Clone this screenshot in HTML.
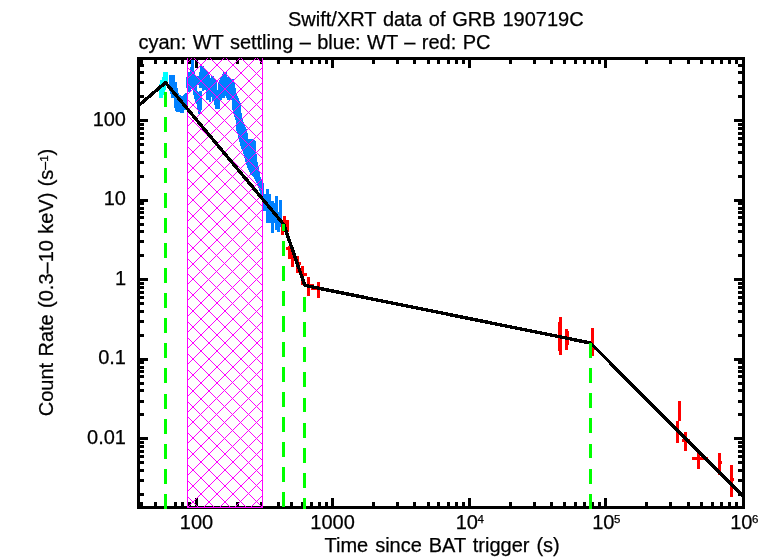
<!DOCTYPE html>
<html><head><meta charset="utf-8"><title>Swift/XRT data of GRB 190719C</title>
<style>html,body{margin:0;padding:0;background:#fff;overflow:hidden}svg{display:block;will-change:transform}text{font-family:"Liberation Sans",sans-serif;fill:#000;stroke:#000;stroke-width:0.25px}</style>
</head><body>
<svg width="772" height="558" viewBox="0 0 772 558">
<rect width="772" height="558" fill="#fff"/>
<g shape-rendering="crispEdges">
<rect x="137" y="57" width="608" height="3" fill="#000"/>
<rect x="137" y="506" width="608" height="3" fill="#000"/>
<rect x="137" y="57" width="3" height="452" fill="#000"/>
<rect x="742" y="57" width="3" height="452" fill="#000"/>
<rect x="140" y="60" width="3" height="4" fill="#000"/>
<rect x="140" y="502" width="3" height="4" fill="#000"/>
<rect x="154" y="60" width="3" height="4" fill="#000"/>
<rect x="154" y="502" width="3" height="4" fill="#000"/>
<rect x="164" y="60" width="3" height="4" fill="#000"/>
<rect x="164" y="502" width="3" height="4" fill="#000"/>
<rect x="174" y="60" width="3" height="4" fill="#000"/>
<rect x="174" y="502" width="3" height="4" fill="#000"/>
<rect x="181" y="60" width="3" height="4" fill="#000"/>
<rect x="181" y="502" width="3" height="4" fill="#000"/>
<rect x="188" y="60" width="3" height="4" fill="#000"/>
<rect x="188" y="502" width="3" height="4" fill="#000"/>
<rect x="195" y="60" width="3" height="8" fill="#000"/>
<rect x="195" y="498" width="3" height="8" fill="#000"/>
<rect x="236" y="60" width="3" height="4" fill="#000"/>
<rect x="236" y="502" width="3" height="4" fill="#000"/>
<rect x="260" y="60" width="3" height="4" fill="#000"/>
<rect x="260" y="502" width="3" height="4" fill="#000"/>
<rect x="277" y="60" width="3" height="4" fill="#000"/>
<rect x="277" y="502" width="3" height="4" fill="#000"/>
<rect x="290" y="60" width="3" height="4" fill="#000"/>
<rect x="290" y="502" width="3" height="4" fill="#000"/>
<rect x="301" y="60" width="3" height="4" fill="#000"/>
<rect x="301" y="502" width="3" height="4" fill="#000"/>
<rect x="310" y="60" width="3" height="4" fill="#000"/>
<rect x="310" y="502" width="3" height="4" fill="#000"/>
<rect x="318" y="60" width="3" height="4" fill="#000"/>
<rect x="318" y="502" width="3" height="4" fill="#000"/>
<rect x="325" y="60" width="3" height="4" fill="#000"/>
<rect x="325" y="502" width="3" height="4" fill="#000"/>
<rect x="331" y="60" width="3" height="8" fill="#000"/>
<rect x="331" y="498" width="3" height="8" fill="#000"/>
<rect x="372" y="60" width="3" height="4" fill="#000"/>
<rect x="372" y="502" width="3" height="4" fill="#000"/>
<rect x="396" y="60" width="3" height="4" fill="#000"/>
<rect x="396" y="502" width="3" height="4" fill="#000"/>
<rect x="413" y="60" width="3" height="4" fill="#000"/>
<rect x="413" y="502" width="3" height="4" fill="#000"/>
<rect x="427" y="60" width="3" height="4" fill="#000"/>
<rect x="427" y="502" width="3" height="4" fill="#000"/>
<rect x="437" y="60" width="3" height="4" fill="#000"/>
<rect x="437" y="502" width="3" height="4" fill="#000"/>
<rect x="447" y="60" width="3" height="4" fill="#000"/>
<rect x="447" y="502" width="3" height="4" fill="#000"/>
<rect x="455" y="60" width="3" height="4" fill="#000"/>
<rect x="455" y="502" width="3" height="4" fill="#000"/>
<rect x="462" y="60" width="3" height="4" fill="#000"/>
<rect x="462" y="502" width="3" height="4" fill="#000"/>
<rect x="468" y="60" width="3" height="8" fill="#000"/>
<rect x="468" y="498" width="3" height="8" fill="#000"/>
<rect x="509" y="60" width="3" height="4" fill="#000"/>
<rect x="509" y="502" width="3" height="4" fill="#000"/>
<rect x="533" y="60" width="3" height="4" fill="#000"/>
<rect x="533" y="502" width="3" height="4" fill="#000"/>
<rect x="550" y="60" width="3" height="4" fill="#000"/>
<rect x="550" y="502" width="3" height="4" fill="#000"/>
<rect x="563" y="60" width="3" height="4" fill="#000"/>
<rect x="563" y="502" width="3" height="4" fill="#000"/>
<rect x="574" y="60" width="3" height="4" fill="#000"/>
<rect x="574" y="502" width="3" height="4" fill="#000"/>
<rect x="583" y="60" width="3" height="4" fill="#000"/>
<rect x="583" y="502" width="3" height="4" fill="#000"/>
<rect x="591" y="60" width="3" height="4" fill="#000"/>
<rect x="591" y="502" width="3" height="4" fill="#000"/>
<rect x="598" y="60" width="3" height="4" fill="#000"/>
<rect x="598" y="502" width="3" height="4" fill="#000"/>
<rect x="604" y="60" width="3" height="8" fill="#000"/>
<rect x="604" y="498" width="3" height="8" fill="#000"/>
<rect x="645" y="60" width="3" height="4" fill="#000"/>
<rect x="645" y="502" width="3" height="4" fill="#000"/>
<rect x="669" y="60" width="3" height="4" fill="#000"/>
<rect x="669" y="502" width="3" height="4" fill="#000"/>
<rect x="687" y="60" width="3" height="4" fill="#000"/>
<rect x="687" y="502" width="3" height="4" fill="#000"/>
<rect x="700" y="60" width="3" height="4" fill="#000"/>
<rect x="700" y="502" width="3" height="4" fill="#000"/>
<rect x="711" y="60" width="3" height="4" fill="#000"/>
<rect x="711" y="502" width="3" height="4" fill="#000"/>
<rect x="720" y="60" width="3" height="4" fill="#000"/>
<rect x="720" y="502" width="3" height="4" fill="#000"/>
<rect x="728" y="60" width="3" height="4" fill="#000"/>
<rect x="728" y="502" width="3" height="4" fill="#000"/>
<rect x="735" y="60" width="3" height="4" fill="#000"/>
<rect x="735" y="502" width="3" height="4" fill="#000"/>
<rect x="140" y="493" width="4" height="3" fill="#000"/>
<rect x="738" y="493" width="4" height="3" fill="#000"/>
<rect x="140" y="479" width="4" height="3" fill="#000"/>
<rect x="738" y="479" width="4" height="3" fill="#000"/>
<rect x="140" y="469" width="4" height="3" fill="#000"/>
<rect x="738" y="469" width="4" height="3" fill="#000"/>
<rect x="140" y="461" width="4" height="3" fill="#000"/>
<rect x="738" y="461" width="4" height="3" fill="#000"/>
<rect x="140" y="455" width="4" height="3" fill="#000"/>
<rect x="738" y="455" width="4" height="3" fill="#000"/>
<rect x="140" y="450" width="4" height="3" fill="#000"/>
<rect x="738" y="450" width="4" height="3" fill="#000"/>
<rect x="140" y="445" width="4" height="3" fill="#000"/>
<rect x="738" y="445" width="4" height="3" fill="#000"/>
<rect x="140" y="441" width="4" height="3" fill="#000"/>
<rect x="738" y="441" width="4" height="3" fill="#000"/>
<rect x="140" y="437" width="8" height="3" fill="#000"/>
<rect x="734" y="437" width="8" height="3" fill="#000"/>
<rect x="140" y="413" width="4" height="3" fill="#000"/>
<rect x="738" y="413" width="4" height="3" fill="#000"/>
<rect x="140" y="400" width="4" height="3" fill="#000"/>
<rect x="738" y="400" width="4" height="3" fill="#000"/>
<rect x="140" y="389" width="4" height="3" fill="#000"/>
<rect x="738" y="389" width="4" height="3" fill="#000"/>
<rect x="140" y="382" width="4" height="3" fill="#000"/>
<rect x="738" y="382" width="4" height="3" fill="#000"/>
<rect x="140" y="375" width="4" height="3" fill="#000"/>
<rect x="738" y="375" width="4" height="3" fill="#000"/>
<rect x="140" y="370" width="4" height="3" fill="#000"/>
<rect x="738" y="370" width="4" height="3" fill="#000"/>
<rect x="140" y="366" width="4" height="3" fill="#000"/>
<rect x="738" y="366" width="4" height="3" fill="#000"/>
<rect x="140" y="361" width="4" height="3" fill="#000"/>
<rect x="738" y="361" width="4" height="3" fill="#000"/>
<rect x="140" y="358" width="8" height="3" fill="#000"/>
<rect x="734" y="358" width="8" height="3" fill="#000"/>
<rect x="140" y="334" width="4" height="3" fill="#000"/>
<rect x="738" y="334" width="4" height="3" fill="#000"/>
<rect x="140" y="320" width="4" height="3" fill="#000"/>
<rect x="738" y="320" width="4" height="3" fill="#000"/>
<rect x="140" y="310" width="4" height="3" fill="#000"/>
<rect x="738" y="310" width="4" height="3" fill="#000"/>
<rect x="140" y="302" width="4" height="3" fill="#000"/>
<rect x="738" y="302" width="4" height="3" fill="#000"/>
<rect x="140" y="296" width="4" height="3" fill="#000"/>
<rect x="738" y="296" width="4" height="3" fill="#000"/>
<rect x="140" y="291" width="4" height="3" fill="#000"/>
<rect x="738" y="291" width="4" height="3" fill="#000"/>
<rect x="140" y="286" width="4" height="3" fill="#000"/>
<rect x="738" y="286" width="4" height="3" fill="#000"/>
<rect x="140" y="282" width="4" height="3" fill="#000"/>
<rect x="738" y="282" width="4" height="3" fill="#000"/>
<rect x="140" y="278" width="8" height="3" fill="#000"/>
<rect x="734" y="278" width="8" height="3" fill="#000"/>
<rect x="140" y="254" width="4" height="3" fill="#000"/>
<rect x="738" y="254" width="4" height="3" fill="#000"/>
<rect x="140" y="240" width="4" height="3" fill="#000"/>
<rect x="738" y="240" width="4" height="3" fill="#000"/>
<rect x="140" y="230" width="4" height="3" fill="#000"/>
<rect x="738" y="230" width="4" height="3" fill="#000"/>
<rect x="140" y="223" width="4" height="3" fill="#000"/>
<rect x="738" y="223" width="4" height="3" fill="#000"/>
<rect x="140" y="216" width="4" height="3" fill="#000"/>
<rect x="738" y="216" width="4" height="3" fill="#000"/>
<rect x="140" y="211" width="4" height="3" fill="#000"/>
<rect x="738" y="211" width="4" height="3" fill="#000"/>
<rect x="140" y="207" width="4" height="3" fill="#000"/>
<rect x="738" y="207" width="4" height="3" fill="#000"/>
<rect x="140" y="202" width="4" height="3" fill="#000"/>
<rect x="738" y="202" width="4" height="3" fill="#000"/>
<rect x="140" y="199" width="8" height="3" fill="#000"/>
<rect x="734" y="199" width="8" height="3" fill="#000"/>
<rect x="140" y="175" width="4" height="3" fill="#000"/>
<rect x="738" y="175" width="4" height="3" fill="#000"/>
<rect x="140" y="161" width="4" height="3" fill="#000"/>
<rect x="738" y="161" width="4" height="3" fill="#000"/>
<rect x="140" y="151" width="4" height="3" fill="#000"/>
<rect x="738" y="151" width="4" height="3" fill="#000"/>
<rect x="140" y="143" width="4" height="3" fill="#000"/>
<rect x="738" y="143" width="4" height="3" fill="#000"/>
<rect x="140" y="137" width="4" height="3" fill="#000"/>
<rect x="738" y="137" width="4" height="3" fill="#000"/>
<rect x="140" y="132" width="4" height="3" fill="#000"/>
<rect x="738" y="132" width="4" height="3" fill="#000"/>
<rect x="140" y="127" width="4" height="3" fill="#000"/>
<rect x="738" y="127" width="4" height="3" fill="#000"/>
<rect x="140" y="123" width="4" height="3" fill="#000"/>
<rect x="738" y="123" width="4" height="3" fill="#000"/>
<rect x="140" y="119" width="8" height="3" fill="#000"/>
<rect x="734" y="119" width="8" height="3" fill="#000"/>
<rect x="140" y="95" width="4" height="3" fill="#000"/>
<rect x="738" y="95" width="4" height="3" fill="#000"/>
<rect x="140" y="81" width="4" height="3" fill="#000"/>
<rect x="738" y="81" width="4" height="3" fill="#000"/>
<rect x="140" y="71" width="4" height="3" fill="#000"/>
<rect x="738" y="71" width="4" height="3" fill="#000"/>
<rect x="140" y="64" width="4" height="3" fill="#000"/>
<rect x="738" y="64" width="4" height="3" fill="#000"/>
<rect x="140" y="57" width="4" height="3" fill="#000"/>
<rect x="738" y="57" width="4" height="3" fill="#000"/>
<rect x="159" y="84" width="3" height="14" fill="#0ff"/>
<rect x="160" y="80" width="3" height="18" fill="#0ff"/>
<rect x="162" y="77" width="3" height="18" fill="#0ff"/>
<rect x="163" y="72" width="3" height="18" fill="#0ff"/>
<rect x="165" y="72" width="3" height="14" fill="#0ff"/>
<rect x="169" y="75" width="3" height="16" fill="#0080ff"/>
<rect x="170" y="75" width="3" height="19" fill="#0080ff"/>
<rect x="171" y="75" width="3" height="23" fill="#0080ff"/>
<rect x="172" y="75" width="3" height="23" fill="#0080ff"/>
<rect x="174" y="82" width="3" height="26" fill="#0080ff"/>
<rect x="175" y="88" width="3" height="23" fill="#0080ff"/>
<rect x="176" y="93" width="3" height="19" fill="#0080ff"/>
<rect x="178" y="95" width="3" height="17" fill="#0080ff"/>
<rect x="180" y="96" width="3" height="17" fill="#0080ff"/>
<rect x="181" y="97" width="3" height="16" fill="#0080ff"/>
<rect x="183" y="95" width="3" height="15" fill="#0080ff"/>
<rect x="184" y="94" width="3" height="14" fill="#0080ff"/>
<rect x="185" y="93" width="3" height="12" fill="#0080ff"/>
<rect x="186" y="77" width="3" height="11" fill="#0080ff"/>
<rect x="188" y="72" width="3" height="20" fill="#0080ff"/>
<rect x="190" y="67" width="3" height="22" fill="#0080ff"/>
<rect x="191" y="60" width="3" height="29" fill="#0080ff"/>
<rect x="263" y="194" width="3" height="17" fill="#0080ff"/>
<rect x="266" y="189" width="3" height="34" fill="#0080ff"/>
<rect x="268" y="194" width="3" height="29" fill="#0080ff"/>
<rect x="271" y="201" width="3" height="32" fill="#0080ff"/>
<rect x="273" y="203" width="3" height="20" fill="#0080ff"/>
<rect x="275" y="196" width="3" height="34" fill="#0080ff"/>
<rect x="277" y="212" width="3" height="20" fill="#0080ff"/>
<rect x="279" y="200" width="3" height="27" fill="#0080ff"/>
<rect x="193" y="72" width="1" height="23" fill="#0080ff"/>
<rect x="194" y="72" width="1" height="27" fill="#0080ff"/>
<rect x="195" y="76" width="1" height="26" fill="#0080ff"/>
<rect x="196" y="76" width="1" height="28" fill="#0080ff"/>
<rect x="197" y="76" width="1" height="9" fill="#0080ff"/>
<rect x="197" y="91" width="1" height="18" fill="#0080ff"/>
<rect x="198" y="76" width="1" height="9" fill="#0080ff"/>
<rect x="198" y="92" width="1" height="22" fill="#0080ff"/>
<rect x="199" y="72" width="1" height="16" fill="#0080ff"/>
<rect x="199" y="91" width="1" height="23" fill="#0080ff"/>
<rect x="200" y="66" width="1" height="22" fill="#0080ff"/>
<rect x="200" y="91" width="1" height="23" fill="#0080ff"/>
<rect x="201" y="66" width="1" height="22" fill="#0080ff"/>
<rect x="201" y="91" width="1" height="19" fill="#0080ff"/>
<rect x="202" y="66" width="1" height="25" fill="#0080ff"/>
<rect x="203" y="66" width="1" height="25" fill="#0080ff"/>
<rect x="204" y="69" width="1" height="21" fill="#0080ff"/>
<rect x="205" y="70" width="1" height="20" fill="#0080ff"/>
<rect x="206" y="71" width="1" height="29" fill="#0080ff"/>
<rect x="207" y="72" width="1" height="28" fill="#0080ff"/>
<rect x="208" y="73" width="1" height="27" fill="#0080ff"/>
<rect x="209" y="75" width="1" height="27" fill="#0080ff"/>
<rect x="210" y="78" width="1" height="24" fill="#0080ff"/>
<rect x="211" y="76" width="1" height="21" fill="#0080ff"/>
<rect x="212" y="76" width="1" height="25" fill="#0080ff"/>
<rect x="213" y="76" width="1" height="25" fill="#0080ff"/>
<rect x="214" y="78" width="1" height="27" fill="#0080ff"/>
<rect x="215" y="79" width="1" height="30" fill="#0080ff"/>
<rect x="216" y="80" width="1" height="29" fill="#0080ff"/>
<rect x="217" y="90" width="1" height="19" fill="#0080ff"/>
<rect x="218" y="82" width="1" height="27" fill="#0080ff"/>
<rect x="219" y="80" width="1" height="29" fill="#0080ff"/>
<rect x="220" y="78" width="1" height="22" fill="#0080ff"/>
<rect x="221" y="76" width="1" height="24" fill="#0080ff"/>
<rect x="222" y="74" width="1" height="24" fill="#0080ff"/>
<rect x="223" y="72" width="1" height="26" fill="#0080ff"/>
<rect x="224" y="72" width="1" height="26" fill="#0080ff"/>
<rect x="225" y="72" width="1" height="24" fill="#0080ff"/>
<rect x="226" y="72" width="1" height="26" fill="#0080ff"/>
<rect x="227" y="77" width="1" height="23" fill="#0080ff"/>
<rect x="228" y="77" width="1" height="23" fill="#0080ff"/>
<rect x="229" y="77" width="1" height="23" fill="#0080ff"/>
<rect x="230" y="79" width="1" height="21" fill="#0080ff"/>
<rect x="231" y="79" width="1" height="21" fill="#0080ff"/>
<rect x="232" y="79" width="1" height="31" fill="#0080ff"/>
<rect x="233" y="79" width="1" height="33" fill="#0080ff"/>
<rect x="234" y="83" width="1" height="29" fill="#0080ff"/>
<rect x="235" y="88" width="1" height="24" fill="#0080ff"/>
<rect x="236" y="93" width="1" height="19" fill="#0080ff"/>
<rect x="237" y="96" width="1" height="16" fill="#0080ff"/>
<polygon fill="#0080ff" points="230,96 232.7,104 232.7,111.5 236,121 236.5,131 239,139.5 240.3,146 242.7,151 245.4,161.5 248,169 251,175 253.5,177 256.7,183 259.4,190.5 260.5,197 263.7,197 263.7,183 260.5,176.6 258.9,169 257.3,161.5 256.2,151 256,142 253.2,138.5 248.3,138.5 247.3,131 243,121 241.3,111.5 240.8,104 237.6,96"/>
<rect x="281" y="222" width="3" height="13" fill="#f00"/>
<rect x="283" y="216" width="3" height="16" fill="#f00"/>
<rect x="286" y="220" width="3" height="12" fill="#f00"/>
<rect x="288" y="246" width="3" height="13" fill="#f00"/>
<rect x="291" y="251" width="3" height="16" fill="#f00"/>
<rect x="296" y="256" width="3" height="17" fill="#f00"/>
<rect x="301" y="266" width="3" height="19" fill="#f00"/>
<rect x="307" y="277" width="3" height="19" fill="#f00"/>
<rect x="317" y="282" width="3" height="16" fill="#f00"/>
<rect x="559" y="317" width="3" height="38" fill="#f00"/>
<rect x="558" y="322" width="3" height="29" fill="#f00"/>
<rect x="565" y="329" width="3" height="21" fill="#f00"/>
<rect x="566" y="331" width="3" height="14" fill="#f00"/>
<rect x="591" y="328" width="3" height="28" fill="#f00"/>
<rect x="678" y="401" width="3" height="20" fill="#f00"/>
<rect x="676" y="421" width="3" height="22" fill="#f00"/>
<rect x="684" y="432" width="3" height="19" fill="#f00"/>
<rect x="697" y="452" width="3" height="17" fill="#f00"/>
<rect x="718" y="453" width="3" height="22" fill="#f00"/>
<rect x="730" y="465" width="3" height="32" fill="#f00"/>
<rect x="286" y="247" width="5" height="3" fill="#f00"/>
<rect x="296" y="262" width="5" height="3" fill="#f00"/>
<rect x="301" y="273" width="6" height="3" fill="#f00"/>
<rect x="307" y="284" width="7" height="3" fill="#f00"/>
<rect x="311" y="287" width="9" height="3" fill="#f00"/>
<rect x="682" y="439" width="8" height="3" fill="#f00"/>
<rect x="692" y="457" width="16" height="3" fill="#f00"/>
<rect x="718" y="461" width="4" height="3" fill="#f00"/>
<rect x="730" y="478" width="4" height="3" fill="#f00"/>
<rect x="592" y="347" width="4" height="3" fill="#f00"/>
<path d="M257 58.5h1M258 59.5h1M259 60.5h1M260 61.5h1M261 62.5h1M262 63.5h1M241 58.5h1M242 59.5h1M243 60.5h1M244 61.5h1M245 62.5h1M246 63.5h1M247 64.5h1M248 65.5h1M249 66.5h1M250 67.5h1M251 68.5h1M252 69.5h1M253 70.5h1M254 71.5h1M255 72.5h1M256 73.5h1M257 74.5h1M258 75.5h1M259 76.5h1M260 77.5h1M261 78.5h1M262 79.5h1M226 58.5h1M227 59.5h1M228 60.5h1M229 61.5h1M230 62.5h1M231 63.5h1M232 64.5h1M233 65.5h1M234 66.5h1M235 67.5h1M236 68.5h1M237 69.5h1M238 70.5h1M239 71.5h1M240 72.5h1M241 73.5h1M242 74.5h1M243 75.5h1M244 76.5h1M245 77.5h1M246 78.5h1M247 79.5h1M248 80.5h1M249 81.5h1M250 82.5h1M251 83.5h1M252 84.5h1M253 85.5h1M254 86.5h1M255 87.5h1M256 88.5h1M257 89.5h1M258 90.5h1M259 91.5h1M260 92.5h1M261 93.5h1M262 94.5h1M210 58.5h1M211 59.5h1M212 60.5h1M213 61.5h1M214 62.5h1M215 63.5h1M216 64.5h1M217 65.5h1M218 66.5h1M219 67.5h1M220 68.5h1M221 69.5h1M222 70.5h1M223 71.5h1M224 72.5h1M225 73.5h1M226 74.5h1M227 75.5h1M228 76.5h1M229 77.5h1M230 78.5h1M231 79.5h1M232 80.5h1M233 81.5h1M234 82.5h1M235 83.5h1M236 84.5h1M237 85.5h1M238 86.5h1M239 87.5h1M240 88.5h1M241 89.5h1M242 90.5h1M243 91.5h1M244 92.5h1M245 93.5h1M246 94.5h1M247 95.5h1M248 96.5h1M249 97.5h1M250 98.5h1M251 99.5h1M252 100.5h1M253 101.5h1M254 102.5h1M255 103.5h1M256 104.5h1M257 105.5h1M258 106.5h1M259 107.5h1M260 108.5h1M261 109.5h1M262 110.5h1M187 62.5h1M188 61.5h1M189 60.5h1M190 59.5h1M191 58.5h1M194 58.5h1M195 59.5h1M196 60.5h1M197 61.5h1M198 62.5h1M199 63.5h1M200 64.5h1M201 65.5h1M202 66.5h1M203 67.5h1M204 68.5h1M205 69.5h1M206 70.5h1M207 71.5h1M208 72.5h1M209 73.5h1M210 74.5h1M211 75.5h1M212 76.5h1M213 77.5h1M214 78.5h1M215 79.5h1M216 80.5h1M217 81.5h1M218 82.5h1M219 83.5h1M220 84.5h1M221 85.5h1M222 86.5h1M223 87.5h1M224 88.5h1M225 89.5h1M226 90.5h1M227 91.5h1M228 92.5h1M229 93.5h1M230 94.5h1M231 95.5h1M232 96.5h1M233 97.5h1M234 98.5h1M235 99.5h1M236 100.5h1M237 101.5h1M238 102.5h1M239 103.5h1M240 104.5h1M241 105.5h1M242 106.5h1M243 107.5h1M244 108.5h1M245 109.5h1M246 110.5h1M247 111.5h1M248 112.5h1M249 113.5h1M250 114.5h1M251 115.5h1M252 116.5h1M253 117.5h1M254 118.5h1M255 119.5h1M256 120.5h1M257 121.5h1M258 122.5h1M259 123.5h1M260 124.5h1M261 125.5h1M262 126.5h1M187 78.5h1M188 77.5h1M189 76.5h1M190 75.5h1M191 74.5h1M192 73.5h1M193 72.5h1M194 71.5h1M195 70.5h1M196 69.5h1M197 68.5h1M198 67.5h1M199 66.5h1M200 65.5h1M201 64.5h1M202 63.5h1M203 62.5h1M204 61.5h1M205 60.5h1M206 59.5h1M207 58.5h1M187 67.5h1M188 68.5h1M189 69.5h1M190 70.5h1M191 71.5h1M192 72.5h1M193 73.5h1M194 74.5h1M195 75.5h1M196 76.5h1M197 77.5h1M198 78.5h1M199 79.5h1M200 80.5h1M201 81.5h1M202 82.5h1M203 83.5h1M204 84.5h1M205 85.5h1M206 86.5h1M207 87.5h1M208 88.5h1M209 89.5h1M210 90.5h1M211 91.5h1M212 92.5h1M213 93.5h1M214 94.5h1M215 95.5h1M216 96.5h1M217 97.5h1M218 98.5h1M219 99.5h1M220 100.5h1M221 101.5h1M222 102.5h1M223 103.5h1M224 104.5h1M225 105.5h1M226 106.5h1M227 107.5h1M228 108.5h1M229 109.5h1M230 110.5h1M231 111.5h1M232 112.5h1M233 113.5h1M234 114.5h1M235 115.5h1M236 116.5h1M237 117.5h1M238 118.5h1M239 119.5h1M240 120.5h1M241 121.5h1M242 122.5h1M243 123.5h1M244 124.5h1M245 125.5h1M246 126.5h1M247 127.5h1M248 128.5h1M249 129.5h1M250 130.5h1M251 131.5h1M252 132.5h1M253 133.5h1M254 134.5h1M255 135.5h1M256 136.5h1M257 137.5h1M258 138.5h1M259 139.5h1M260 140.5h1M261 141.5h1M262 142.5h1M187 94.5h1M188 93.5h1M189 92.5h1M190 91.5h1M191 90.5h1M192 89.5h1M193 88.5h1M194 87.5h1M195 86.5h1M196 85.5h1M197 84.5h1M198 83.5h1M199 82.5h1M200 81.5h1M201 80.5h1M202 79.5h1M203 78.5h1M204 77.5h1M205 76.5h1M206 75.5h1M207 74.5h1M208 73.5h1M209 72.5h1M210 71.5h1M211 70.5h1M212 69.5h1M213 68.5h1M214 67.5h1M215 66.5h1M216 65.5h1M217 64.5h1M218 63.5h1M219 62.5h1M220 61.5h1M221 60.5h1M222 59.5h1M223 58.5h1M187 83.5h1M188 84.5h1M189 85.5h1M190 86.5h1M191 87.5h1M192 88.5h1M193 89.5h1M194 90.5h1M195 91.5h1M196 92.5h1M197 93.5h1M198 94.5h1M199 95.5h1M200 96.5h1M201 97.5h1M202 98.5h1M203 99.5h1M204 100.5h1M205 101.5h1M206 102.5h1M207 103.5h1M208 104.5h1M209 105.5h1M210 106.5h1M211 107.5h1M212 108.5h1M213 109.5h1M214 110.5h1M215 111.5h1M216 112.5h1M217 113.5h1M218 114.5h1M219 115.5h1M220 116.5h1M221 117.5h1M222 118.5h1M223 119.5h1M224 120.5h1M225 121.5h1M226 122.5h1M227 123.5h1M228 124.5h1M229 125.5h1M230 126.5h1M231 127.5h1M232 128.5h1M233 129.5h1M234 130.5h1M235 131.5h1M236 132.5h1M237 133.5h1M238 134.5h1M239 135.5h1M240 136.5h1M241 137.5h1M242 138.5h1M243 139.5h1M244 140.5h1M245 141.5h1M246 142.5h1M247 143.5h1M248 144.5h1M249 145.5h1M250 146.5h1M251 147.5h1M252 148.5h1M253 149.5h1M254 150.5h1M255 151.5h1M256 152.5h1M257 153.5h1M258 154.5h1M259 155.5h1M260 156.5h1M261 157.5h1M262 158.5h1M187 110.5h1M188 109.5h1M189 108.5h1M190 107.5h1M191 106.5h1M192 105.5h1M193 104.5h1M194 103.5h1M195 102.5h1M196 101.5h1M197 100.5h1M198 99.5h1M199 98.5h1M200 97.5h1M201 96.5h1M202 95.5h1M203 94.5h1M204 93.5h1M205 92.5h1M206 91.5h1M207 90.5h1M208 89.5h1M209 88.5h1M210 87.5h1M211 86.5h1M212 85.5h1M213 84.5h1M214 83.5h1M215 82.5h1M216 81.5h1M217 80.5h1M218 79.5h1M219 78.5h1M220 77.5h1M221 76.5h1M222 75.5h1M223 74.5h1M224 73.5h1M225 72.5h1M226 71.5h1M227 70.5h1M228 69.5h1M229 68.5h1M230 67.5h1M231 66.5h1M232 65.5h1M233 64.5h1M234 63.5h1M235 62.5h1M236 61.5h1M237 60.5h1M238 59.5h1M239 58.5h1M187 99.5h1M188 100.5h1M189 101.5h1M190 102.5h1M191 103.5h1M192 104.5h1M193 105.5h1M194 106.5h1M195 107.5h1M196 108.5h1M197 109.5h1M198 110.5h1M199 111.5h1M200 112.5h1M201 113.5h1M202 114.5h1M203 115.5h1M204 116.5h1M205 117.5h1M206 118.5h1M207 119.5h1M208 120.5h1M209 121.5h1M210 122.5h1M211 123.5h1M212 124.5h1M213 125.5h1M214 126.5h1M215 127.5h1M216 128.5h1M217 129.5h1M218 130.5h1M219 131.5h1M220 132.5h1M221 133.5h1M222 134.5h1M223 135.5h1M224 136.5h1M225 137.5h1M226 138.5h1M227 139.5h1M228 140.5h1M229 141.5h1M230 142.5h1M231 143.5h1M232 144.5h1M233 145.5h1M234 146.5h1M235 147.5h1M236 148.5h1M237 149.5h1M238 150.5h1M239 151.5h1M240 152.5h1M241 153.5h1M242 154.5h1M243 155.5h1M244 156.5h1M245 157.5h1M246 158.5h1M247 159.5h1M248 160.5h1M249 161.5h1M250 162.5h1M251 163.5h1M252 164.5h1M253 165.5h1M254 166.5h1M255 167.5h1M256 168.5h1M257 169.5h1M258 170.5h1M259 171.5h1M260 172.5h1M261 173.5h1M262 174.5h1M187 126.5h1M188 125.5h1M189 124.5h1M190 123.5h1M191 122.5h1M192 121.5h1M193 120.5h1M194 119.5h1M195 118.5h1M196 117.5h1M197 116.5h1M198 115.5h1M199 114.5h1M200 113.5h1M201 112.5h1M202 111.5h1M203 110.5h1M204 109.5h1M205 108.5h1M206 107.5h1M207 106.5h1M208 105.5h1M209 104.5h1M210 103.5h1M211 102.5h1M212 101.5h1M213 100.5h1M214 99.5h1M215 98.5h1M216 97.5h1M217 96.5h1M218 95.5h1M219 94.5h1M220 93.5h1M221 92.5h1M222 91.5h1M223 90.5h1M224 89.5h1M225 88.5h1M226 87.5h1M227 86.5h1M228 85.5h1M229 84.5h1M230 83.5h1M231 82.5h1M232 81.5h1M233 80.5h1M234 79.5h1M235 78.5h1M236 77.5h1M237 76.5h1M238 75.5h1M239 74.5h1M240 73.5h1M241 72.5h1M242 71.5h1M243 70.5h1M244 69.5h1M245 68.5h1M246 67.5h1M247 66.5h1M248 65.5h1M249 64.5h1M250 63.5h1M251 62.5h1M252 61.5h1M253 60.5h1M254 59.5h1M255 58.5h1M187 115.5h1M188 116.5h1M189 117.5h1M190 118.5h1M191 119.5h1M192 120.5h1M193 121.5h1M194 122.5h1M195 123.5h1M196 124.5h1M197 125.5h1M198 126.5h1M199 127.5h1M200 128.5h1M201 129.5h1M202 130.5h1M203 131.5h1M204 132.5h1M205 133.5h1M206 134.5h1M207 135.5h1M208 136.5h1M209 137.5h1M210 138.5h1M211 139.5h1M212 140.5h1M213 141.5h1M214 142.5h1M215 143.5h1M216 144.5h1M217 145.5h1M218 146.5h1M219 147.5h1M220 148.5h1M221 149.5h1M222 150.5h1M223 151.5h1M224 152.5h1M225 153.5h1M226 154.5h1M227 155.5h1M228 156.5h1M229 157.5h1M230 158.5h1M231 159.5h1M232 160.5h1M233 161.5h1M234 162.5h1M235 163.5h1M236 164.5h1M237 165.5h1M238 166.5h1M239 167.5h1M240 168.5h1M241 169.5h1M242 170.5h1M243 171.5h1M244 172.5h1M245 173.5h1M246 174.5h1M247 175.5h1M248 176.5h1M249 177.5h1M250 178.5h1M251 179.5h1M252 180.5h1M253 181.5h1M254 182.5h1M255 183.5h1M256 184.5h1M257 185.5h1M258 186.5h1M259 187.5h1M260 188.5h1M261 189.5h1M262 190.5h1M187 142.5h1M188 141.5h1M189 140.5h1M190 139.5h1M191 138.5h1M192 137.5h1M193 136.5h1M194 135.5h1M195 134.5h1M196 133.5h1M197 132.5h1M198 131.5h1M199 130.5h1M200 129.5h1M201 128.5h1M202 127.5h1M203 126.5h1M204 125.5h1M205 124.5h1M206 123.5h1M207 122.5h1M208 121.5h1M209 120.5h1M210 119.5h1M211 118.5h1M212 117.5h1M213 116.5h1M214 115.5h1M215 114.5h1M216 113.5h1M217 112.5h1M218 111.5h1M219 110.5h1M220 109.5h1M221 108.5h1M222 107.5h1M223 106.5h1M224 105.5h1M225 104.5h1M226 103.5h1M227 102.5h1M228 101.5h1M229 100.5h1M230 99.5h1M231 98.5h1M232 97.5h1M233 96.5h1M234 95.5h1M235 94.5h1M236 93.5h1M237 92.5h1M238 91.5h1M239 90.5h1M240 89.5h1M241 88.5h1M242 87.5h1M243 86.5h1M244 85.5h1M245 84.5h1M246 83.5h1M247 82.5h1M248 81.5h1M249 80.5h1M250 79.5h1M251 78.5h1M252 77.5h1M253 76.5h1M254 75.5h1M255 74.5h1M256 73.5h1M257 72.5h1M258 71.5h1M259 70.5h1M260 69.5h1M261 68.5h1M262 67.5h1M187 131.5h1M188 132.5h1M189 133.5h1M190 134.5h1M191 135.5h1M192 136.5h1M193 137.5h1M194 138.5h1M195 139.5h1M196 140.5h1M197 141.5h1M198 142.5h1M199 143.5h1M200 144.5h1M201 145.5h1M202 146.5h1M203 147.5h1M204 148.5h1M205 149.5h1M206 150.5h1M207 151.5h1M208 152.5h1M209 153.5h1M210 154.5h1M211 155.5h1M212 156.5h1M213 157.5h1M214 158.5h1M215 159.5h1M216 160.5h1M217 161.5h1M218 162.5h1M219 163.5h1M220 164.5h1M221 165.5h1M222 166.5h1M223 167.5h1M224 168.5h1M225 169.5h1M226 170.5h1M227 171.5h1M228 172.5h1M229 173.5h1M230 174.5h1M231 175.5h1M232 176.5h1M233 177.5h1M234 178.5h1M235 179.5h1M236 180.5h1M237 181.5h1M238 182.5h1M239 183.5h1M240 184.5h1M241 185.5h1M242 186.5h1M243 187.5h1M244 188.5h1M245 189.5h1M246 190.5h1M247 191.5h1M248 192.5h1M249 193.5h1M250 194.5h1M251 195.5h1M252 196.5h1M253 197.5h1M254 198.5h1M255 199.5h1M256 200.5h1M257 201.5h1M258 202.5h1M259 203.5h1M260 204.5h1M261 205.5h1M262 206.5h1M187 157.5h1M188 156.5h1M189 155.5h1M190 154.5h1M191 153.5h1M192 152.5h1M193 151.5h1M194 150.5h1M195 149.5h1M196 148.5h1M197 147.5h1M198 146.5h1M199 145.5h1M200 144.5h1M201 143.5h1M202 142.5h1M203 141.5h1M204 140.5h1M205 139.5h1M206 138.5h1M207 137.5h1M208 136.5h1M209 135.5h1M210 134.5h1M211 133.5h1M212 132.5h1M213 131.5h1M214 130.5h1M215 129.5h1M216 128.5h1M217 127.5h1M218 126.5h1M219 125.5h1M220 124.5h1M221 123.5h1M222 122.5h1M223 121.5h1M224 120.5h1M225 119.5h1M226 118.5h1M227 117.5h1M228 116.5h1M229 115.5h1M230 114.5h1M231 113.5h1M232 112.5h1M233 111.5h1M234 110.5h1M235 109.5h1M236 108.5h1M237 107.5h1M238 106.5h1M239 105.5h1M240 104.5h1M241 103.5h1M242 102.5h1M243 101.5h1M244 100.5h1M245 99.5h1M246 98.5h1M247 97.5h1M248 96.5h1M249 95.5h1M250 94.5h1M251 93.5h1M252 92.5h1M253 91.5h1M254 90.5h1M255 89.5h1M256 88.5h1M257 87.5h1M258 86.5h1M259 85.5h1M260 84.5h1M261 83.5h1M262 82.5h1M187 146.5h1M188 147.5h1M189 148.5h1M190 149.5h1M191 150.5h1M192 151.5h1M193 152.5h1M194 153.5h1M195 154.5h1M196 155.5h1M197 156.5h1M198 157.5h1M199 158.5h1M200 159.5h1M201 160.5h1M202 161.5h1M203 162.5h1M204 163.5h1M205 164.5h1M206 165.5h1M207 166.5h1M208 167.5h1M209 168.5h1M210 169.5h1M211 170.5h1M212 171.5h1M213 172.5h1M214 173.5h1M215 174.5h1M216 175.5h1M217 176.5h1M218 177.5h1M219 178.5h1M220 179.5h1M221 180.5h1M222 181.5h1M223 182.5h1M224 183.5h1M225 184.5h1M226 185.5h1M227 186.5h1M228 187.5h1M229 188.5h1M230 189.5h1M231 190.5h1M232 191.5h1M233 192.5h1M234 193.5h1M235 194.5h1M236 195.5h1M237 196.5h1M238 197.5h1M239 198.5h1M240 199.5h1M241 200.5h1M242 201.5h1M243 202.5h1M244 203.5h1M245 204.5h1M246 205.5h1M247 206.5h1M248 207.5h1M249 208.5h1M250 209.5h1M251 210.5h1M252 211.5h1M253 212.5h1M254 213.5h1M255 214.5h1M256 215.5h1M257 216.5h1M258 217.5h1M259 218.5h1M260 219.5h1M261 220.5h1M262 221.5h1M187 173.5h1M188 172.5h1M189 171.5h1M190 170.5h1M191 169.5h1M192 168.5h1M193 167.5h1M194 166.5h1M195 165.5h1M196 164.5h1M197 163.5h1M198 162.5h1M199 161.5h1M200 160.5h1M201 159.5h1M202 158.5h1M203 157.5h1M204 156.5h1M205 155.5h1M206 154.5h1M207 153.5h1M208 152.5h1M209 151.5h1M210 150.5h1M211 149.5h1M212 148.5h1M213 147.5h1M214 146.5h1M215 145.5h1M216 144.5h1M217 143.5h1M218 142.5h1M219 141.5h1M220 140.5h1M221 139.5h1M222 138.5h1M223 137.5h1M224 136.5h1M225 135.5h1M226 134.5h1M227 133.5h1M228 132.5h1M229 131.5h1M230 130.5h1M231 129.5h1M232 128.5h1M233 127.5h1M234 126.5h1M235 125.5h1M236 124.5h1M237 123.5h1M238 122.5h1M239 121.5h1M240 120.5h1M241 119.5h1M242 118.5h1M243 117.5h1M244 116.5h1M245 115.5h1M246 114.5h1M247 113.5h1M248 112.5h1M249 111.5h1M250 110.5h1M251 109.5h1M252 108.5h1M253 107.5h1M254 106.5h1M255 105.5h1M256 104.5h1M257 103.5h1M258 102.5h1M259 101.5h1M260 100.5h1M261 99.5h1M262 98.5h1M187 162.5h1M188 163.5h1M189 164.5h1M190 165.5h1M191 166.5h1M192 167.5h1M193 168.5h1M194 169.5h1M195 170.5h1M196 171.5h1M197 172.5h1M198 173.5h1M199 174.5h1M200 175.5h1M201 176.5h1M202 177.5h1M203 178.5h1M204 179.5h1M205 180.5h1M206 181.5h1M207 182.5h1M208 183.5h1M209 184.5h1M210 185.5h1M211 186.5h1M212 187.5h1M213 188.5h1M214 189.5h1M215 190.5h1M216 191.5h1M217 192.5h1M218 193.5h1M219 194.5h1M220 195.5h1M221 196.5h1M222 197.5h1M223 198.5h1M224 199.5h1M225 200.5h1M226 201.5h1M227 202.5h1M228 203.5h1M229 204.5h1M230 205.5h1M231 206.5h1M232 207.5h1M233 208.5h1M234 209.5h1M235 210.5h1M236 211.5h1M237 212.5h1M238 213.5h1M239 214.5h1M240 215.5h1M241 216.5h1M242 217.5h1M243 218.5h1M244 219.5h1M245 220.5h1M246 221.5h1M247 222.5h1M248 223.5h1M249 224.5h1M250 225.5h1M251 226.5h1M252 227.5h1M253 228.5h1M254 229.5h1M255 230.5h1M256 231.5h1M257 232.5h1M258 233.5h1M259 234.5h1M260 235.5h1M261 236.5h1M262 237.5h1M187 189.5h1M188 188.5h1M189 187.5h1M190 186.5h1M191 185.5h1M192 184.5h1M193 183.5h1M194 182.5h1M195 181.5h1M196 180.5h1M197 179.5h1M198 178.5h1M199 177.5h1M200 176.5h1M201 175.5h1M202 174.5h1M203 173.5h1M204 172.5h1M205 171.5h1M206 170.5h1M207 169.5h1M208 168.5h1M209 167.5h1M210 166.5h1M211 165.5h1M212 164.5h1M213 163.5h1M214 162.5h1M215 161.5h1M216 160.5h1M217 159.5h1M218 158.5h1M219 157.5h1M220 156.5h1M221 155.5h1M222 154.5h1M223 153.5h1M224 152.5h1M225 151.5h1M226 150.5h1M227 149.5h1M228 148.5h1M229 147.5h1M230 146.5h1M231 145.5h1M232 144.5h1M233 143.5h1M234 142.5h1M235 141.5h1M236 140.5h1M237 139.5h1M238 138.5h1M239 137.5h1M240 136.5h1M241 135.5h1M242 134.5h1M243 133.5h1M244 132.5h1M245 131.5h1M246 130.5h1M247 129.5h1M248 128.5h1M249 127.5h1M250 126.5h1M251 125.5h1M252 124.5h1M253 123.5h1M254 122.5h1M255 121.5h1M256 120.5h1M257 119.5h1M258 118.5h1M259 117.5h1M260 116.5h1M261 115.5h1M262 114.5h1M187 178.5h1M188 179.5h1M189 180.5h1M190 181.5h1M191 182.5h1M192 183.5h1M193 184.5h1M194 185.5h1M195 186.5h1M196 187.5h1M197 188.5h1M198 189.5h1M199 190.5h1M200 191.5h1M201 192.5h1M202 193.5h1M203 194.5h1M204 195.5h1M205 196.5h1M206 197.5h1M207 198.5h1M208 199.5h1M209 200.5h1M210 201.5h1M211 202.5h1M212 203.5h1M213 204.5h1M214 205.5h1M215 206.5h1M216 207.5h1M217 208.5h1M218 209.5h1M219 210.5h1M220 211.5h1M221 212.5h1M222 213.5h1M223 214.5h1M224 215.5h1M225 216.5h1M226 217.5h1M227 218.5h1M228 219.5h1M229 220.5h1M230 221.5h1M231 222.5h1M232 223.5h1M233 224.5h1M234 225.5h1M235 226.5h1M236 227.5h1M237 228.5h1M238 229.5h1M239 230.5h1M240 231.5h1M241 232.5h1M242 233.5h1M243 234.5h1M244 235.5h1M245 236.5h1M246 237.5h1M247 238.5h1M248 239.5h1M249 240.5h1M250 241.5h1M251 242.5h1M252 243.5h1M253 244.5h1M254 245.5h1M255 246.5h1M256 247.5h1M257 248.5h1M258 249.5h1M259 250.5h1M260 251.5h1M261 252.5h1M262 253.5h1M187 205.5h1M188 204.5h1M189 203.5h1M190 202.5h1M191 201.5h1M192 200.5h1M193 199.5h1M194 198.5h1M195 197.5h1M196 196.5h1M197 195.5h1M198 194.5h1M199 193.5h1M200 192.5h1M201 191.5h1M202 190.5h1M203 189.5h1M204 188.5h1M205 187.5h1M206 186.5h1M207 185.5h1M208 184.5h1M209 183.5h1M210 182.5h1M211 181.5h1M212 180.5h1M213 179.5h1M214 178.5h1M215 177.5h1M216 176.5h1M217 175.5h1M218 174.5h1M219 173.5h1M220 172.5h1M221 171.5h1M222 170.5h1M223 169.5h1M224 168.5h1M225 167.5h1M226 166.5h1M227 165.5h1M228 164.5h1M229 163.5h1M230 162.5h1M231 161.5h1M232 160.5h1M233 159.5h1M234 158.5h1M235 157.5h1M236 156.5h1M237 155.5h1M238 154.5h1M239 153.5h1M240 152.5h1M241 151.5h1M242 150.5h1M243 149.5h1M244 148.5h1M245 147.5h1M246 146.5h1M247 145.5h1M248 144.5h1M249 143.5h1M250 142.5h1M251 141.5h1M252 140.5h1M253 139.5h1M254 138.5h1M255 137.5h1M256 136.5h1M257 135.5h1M258 134.5h1M259 133.5h1M260 132.5h1M261 131.5h1M262 130.5h1M187 194.5h1M188 195.5h1M189 196.5h1M190 197.5h1M191 198.5h1M192 199.5h1M193 200.5h1M194 201.5h1M195 202.5h1M196 203.5h1M197 204.5h1M198 205.5h1M199 206.5h1M200 207.5h1M201 208.5h1M202 209.5h1M203 210.5h1M204 211.5h1M205 212.5h1M206 213.5h1M207 214.5h1M208 215.5h1M209 216.5h1M210 217.5h1M211 218.5h1M212 219.5h1M213 220.5h1M214 221.5h1M215 222.5h1M216 223.5h1M217 224.5h1M218 225.5h1M219 226.5h1M220 227.5h1M221 228.5h1M222 229.5h1M223 230.5h1M224 231.5h1M225 232.5h1M226 233.5h1M227 234.5h1M228 235.5h1M229 236.5h1M230 237.5h1M231 238.5h1M232 239.5h1M233 240.5h1M234 241.5h1M235 242.5h1M236 243.5h1M237 244.5h1M238 245.5h1M239 246.5h1M240 247.5h1M241 248.5h1M242 249.5h1M243 250.5h1M244 251.5h1M245 252.5h1M246 253.5h1M247 254.5h1M248 255.5h1M249 256.5h1M250 257.5h1M251 258.5h1M252 259.5h1M253 260.5h1M254 261.5h1M255 262.5h1M256 263.5h1M257 264.5h1M258 265.5h1M259 266.5h1M260 267.5h1M261 268.5h1M262 269.5h1M187 221.5h1M188 220.5h1M189 219.5h1M190 218.5h1M191 217.5h1M192 216.5h1M193 215.5h1M194 214.5h1M195 213.5h1M196 212.5h1M197 211.5h1M198 210.5h1M199 209.5h1M200 208.5h1M201 207.5h1M202 206.5h1M203 205.5h1M204 204.5h1M205 203.5h1M206 202.5h1M207 201.5h1M208 200.5h1M209 199.5h1M210 198.5h1M211 197.5h1M212 196.5h1M213 195.5h1M214 194.5h1M215 193.5h1M216 192.5h1M217 191.5h1M218 190.5h1M219 189.5h1M220 188.5h1M221 187.5h1M222 186.5h1M223 185.5h1M224 184.5h1M225 183.5h1M226 182.5h1M227 181.5h1M228 180.5h1M229 179.5h1M230 178.5h1M231 177.5h1M232 176.5h1M233 175.5h1M234 174.5h1M235 173.5h1M236 172.5h1M237 171.5h1M238 170.5h1M239 169.5h1M240 168.5h1M241 167.5h1M242 166.5h1M243 165.5h1M244 164.5h1M245 163.5h1M246 162.5h1M247 161.5h1M248 160.5h1M249 159.5h1M250 158.5h1M251 157.5h1M252 156.5h1M253 155.5h1M254 154.5h1M255 153.5h1M256 152.5h1M257 151.5h1M258 150.5h1M259 149.5h1M260 148.5h1M261 147.5h1M262 146.5h1M187 210.5h1M188 211.5h1M189 212.5h1M190 213.5h1M191 214.5h1M192 215.5h1M193 216.5h1M194 217.5h1M195 218.5h1M196 219.5h1M197 220.5h1M198 221.5h1M199 222.5h1M200 223.5h1M201 224.5h1M202 225.5h1M203 226.5h1M204 227.5h1M205 228.5h1M206 229.5h1M207 230.5h1M208 231.5h1M209 232.5h1M210 233.5h1M211 234.5h1M212 235.5h1M213 236.5h1M214 237.5h1M215 238.5h1M216 239.5h1M217 240.5h1M218 241.5h1M219 242.5h1M220 243.5h1M221 244.5h1M222 245.5h1M223 246.5h1M224 247.5h1M225 248.5h1M226 249.5h1M227 250.5h1M228 251.5h1M229 252.5h1M230 253.5h1M231 254.5h1M232 255.5h1M233 256.5h1M234 257.5h1M235 258.5h1M236 259.5h1M237 260.5h1M238 261.5h1M239 262.5h1M240 263.5h1M241 264.5h1M242 265.5h1M243 266.5h1M244 267.5h1M245 268.5h1M246 269.5h1M247 270.5h1M248 271.5h1M249 272.5h1M250 273.5h1M251 274.5h1M252 275.5h1M253 276.5h1M254 277.5h1M255 278.5h1M256 279.5h1M257 280.5h1M258 281.5h1M259 282.5h1M260 283.5h1M261 284.5h1M262 285.5h1M187 237.5h1M188 236.5h1M189 235.5h1M190 234.5h1M191 233.5h1M192 232.5h1M193 231.5h1M194 230.5h1M195 229.5h1M196 228.5h1M197 227.5h1M198 226.5h1M199 225.5h1M200 224.5h1M201 223.5h1M202 222.5h1M203 221.5h1M204 220.5h1M205 219.5h1M206 218.5h1M207 217.5h1M208 216.5h1M209 215.5h1M210 214.5h1M211 213.5h1M212 212.5h1M213 211.5h1M214 210.5h1M215 209.5h1M216 208.5h1M217 207.5h1M218 206.5h1M219 205.5h1M220 204.5h1M221 203.5h1M222 202.5h1M223 201.5h1M224 200.5h1M225 199.5h1M226 198.5h1M227 197.5h1M228 196.5h1M229 195.5h1M230 194.5h1M231 193.5h1M232 192.5h1M233 191.5h1M234 190.5h1M235 189.5h1M236 188.5h1M237 187.5h1M238 186.5h1M239 185.5h1M240 184.5h1M241 183.5h1M242 182.5h1M243 181.5h1M244 180.5h1M245 179.5h1M246 178.5h1M247 177.5h1M248 176.5h1M249 175.5h1M250 174.5h1M251 173.5h1M252 172.5h1M253 171.5h1M254 170.5h1M255 169.5h1M256 168.5h1M257 167.5h1M258 166.5h1M259 165.5h1M260 164.5h1M261 163.5h1M262 162.5h1M187 226.5h1M188 227.5h1M189 228.5h1M190 229.5h1M191 230.5h1M192 231.5h1M193 232.5h1M194 233.5h1M195 234.5h1M196 235.5h1M197 236.5h1M198 237.5h1M199 238.5h1M200 239.5h1M201 240.5h1M202 241.5h1M203 242.5h1M204 243.5h1M205 244.5h1M206 245.5h1M207 246.5h1M208 247.5h1M209 248.5h1M210 249.5h1M211 250.5h1M212 251.5h1M213 252.5h1M214 253.5h1M215 254.5h1M216 255.5h1M217 256.5h1M218 257.5h1M219 258.5h1M220 259.5h1M221 260.5h1M222 261.5h1M223 262.5h1M224 263.5h1M225 264.5h1M226 265.5h1M227 266.5h1M228 267.5h1M229 268.5h1M230 269.5h1M231 270.5h1M232 271.5h1M233 272.5h1M234 273.5h1M235 274.5h1M236 275.5h1M237 276.5h1M238 277.5h1M239 278.5h1M240 279.5h1M241 280.5h1M242 281.5h1M243 282.5h1M244 283.5h1M245 284.5h1M246 285.5h1M247 286.5h1M248 287.5h1M249 288.5h1M250 289.5h1M251 290.5h1M252 291.5h1M253 292.5h1M254 293.5h1M255 294.5h1M256 295.5h1M257 296.5h1M258 297.5h1M259 298.5h1M260 299.5h1M261 300.5h1M262 301.5h1M187 253.5h1M188 252.5h1M189 251.5h1M190 250.5h1M191 249.5h1M192 248.5h1M193 247.5h1M194 246.5h1M195 245.5h1M196 244.5h1M197 243.5h1M198 242.5h1M199 241.5h1M200 240.5h1M201 239.5h1M202 238.5h1M203 237.5h1M204 236.5h1M205 235.5h1M206 234.5h1M207 233.5h1M208 232.5h1M209 231.5h1M210 230.5h1M211 229.5h1M212 228.5h1M213 227.5h1M214 226.5h1M215 225.5h1M216 224.5h1M217 223.5h1M218 222.5h1M219 221.5h1M220 220.5h1M221 219.5h1M222 218.5h1M223 217.5h1M224 216.5h1M225 215.5h1M226 214.5h1M227 213.5h1M228 212.5h1M229 211.5h1M230 210.5h1M231 209.5h1M232 208.5h1M233 207.5h1M234 206.5h1M235 205.5h1M236 204.5h1M237 203.5h1M238 202.5h1M239 201.5h1M240 200.5h1M241 199.5h1M242 198.5h1M243 197.5h1M244 196.5h1M245 195.5h1M246 194.5h1M247 193.5h1M248 192.5h1M249 191.5h1M250 190.5h1M251 189.5h1M252 188.5h1M253 187.5h1M254 186.5h1M255 185.5h1M256 184.5h1M257 183.5h1M258 182.5h1M259 181.5h1M260 180.5h1M261 179.5h1M262 178.5h1M187 242.5h1M188 243.5h1M189 244.5h1M190 245.5h1M191 246.5h1M192 247.5h1M193 248.5h1M194 249.5h1M195 250.5h1M196 251.5h1M197 252.5h1M198 253.5h1M199 254.5h1M200 255.5h1M201 256.5h1M202 257.5h1M203 258.5h1M204 259.5h1M205 260.5h1M206 261.5h1M207 262.5h1M208 263.5h1M209 264.5h1M210 265.5h1M211 266.5h1M212 267.5h1M213 268.5h1M214 269.5h1M215 270.5h1M216 271.5h1M217 272.5h1M218 273.5h1M219 274.5h1M220 275.5h1M221 276.5h1M222 277.5h1M223 278.5h1M224 279.5h1M225 280.5h1M226 281.5h1M227 282.5h1M228 283.5h1M229 284.5h1M230 285.5h1M231 286.5h1M232 287.5h1M233 288.5h1M234 289.5h1M235 290.5h1M236 291.5h1M237 292.5h1M238 293.5h1M239 294.5h1M240 295.5h1M241 296.5h1M242 297.5h1M243 298.5h1M244 299.5h1M245 300.5h1M246 301.5h1M247 302.5h1M248 303.5h1M249 304.5h1M250 305.5h1M251 306.5h1M252 307.5h1M253 308.5h1M254 309.5h1M255 310.5h1M256 311.5h1M257 312.5h1M258 313.5h1M259 314.5h1M260 315.5h1M261 316.5h1M262 317.5h1M187 269.5h1M188 268.5h1M189 267.5h1M190 266.5h1M191 265.5h1M192 264.5h1M193 263.5h1M194 262.5h1M195 261.5h1M196 260.5h1M197 259.5h1M198 258.5h1M199 257.5h1M200 256.5h1M201 255.5h1M202 254.5h1M203 253.5h1M204 252.5h1M205 251.5h1M206 250.5h1M207 249.5h1M208 248.5h1M209 247.5h1M210 246.5h1M211 245.5h1M212 244.5h1M213 243.5h1M214 242.5h1M215 241.5h1M216 240.5h1M217 239.5h1M218 238.5h1M219 237.5h1M220 236.5h1M221 235.5h1M222 234.5h1M223 233.5h1M224 232.5h1M225 231.5h1M226 230.5h1M227 229.5h1M228 228.5h1M229 227.5h1M230 226.5h1M231 225.5h1M232 224.5h1M233 223.5h1M234 222.5h1M235 221.5h1M236 220.5h1M237 219.5h1M238 218.5h1M239 217.5h1M240 216.5h1M241 215.5h1M242 214.5h1M243 213.5h1M244 212.5h1M245 211.5h1M246 210.5h1M247 209.5h1M248 208.5h1M249 207.5h1M250 206.5h1M251 205.5h1M252 204.5h1M253 203.5h1M254 202.5h1M255 201.5h1M256 200.5h1M257 199.5h1M258 198.5h1M259 197.5h1M260 196.5h1M261 195.5h1M262 194.5h1M187 258.5h1M188 259.5h1M189 260.5h1M190 261.5h1M191 262.5h1M192 263.5h1M193 264.5h1M194 265.5h1M195 266.5h1M196 267.5h1M197 268.5h1M198 269.5h1M199 270.5h1M200 271.5h1M201 272.5h1M202 273.5h1M203 274.5h1M204 275.5h1M205 276.5h1M206 277.5h1M207 278.5h1M208 279.5h1M209 280.5h1M210 281.5h1M211 282.5h1M212 283.5h1M213 284.5h1M214 285.5h1M215 286.5h1M216 287.5h1M217 288.5h1M218 289.5h1M219 290.5h1M220 291.5h1M221 292.5h1M222 293.5h1M223 294.5h1M224 295.5h1M225 296.5h1M226 297.5h1M227 298.5h1M228 299.5h1M229 300.5h1M230 301.5h1M231 302.5h1M232 303.5h1M233 304.5h1M234 305.5h1M235 306.5h1M236 307.5h1M237 308.5h1M238 309.5h1M239 310.5h1M240 311.5h1M241 312.5h1M242 313.5h1M243 314.5h1M244 315.5h1M245 316.5h1M246 317.5h1M247 318.5h1M248 319.5h1M249 320.5h1M250 321.5h1M251 322.5h1M252 323.5h1M253 324.5h1M254 325.5h1M255 326.5h1M256 327.5h1M257 328.5h1M258 329.5h1M259 330.5h1M260 331.5h1M261 332.5h1M262 333.5h1M187 284.5h1M188 283.5h1M189 282.5h1M190 281.5h1M191 280.5h1M192 279.5h1M193 278.5h1M194 277.5h1M195 276.5h1M196 275.5h1M197 274.5h1M198 273.5h1M199 272.5h1M200 271.5h1M201 270.5h1M202 269.5h1M203 268.5h1M204 267.5h1M205 266.5h1M206 265.5h1M207 264.5h1M208 263.5h1M209 262.5h1M210 261.5h1M211 260.5h1M212 259.5h1M213 258.5h1M214 257.5h1M215 256.5h1M216 255.5h1M217 254.5h1M218 253.5h1M219 252.5h1M220 251.5h1M221 250.5h1M222 249.5h1M223 248.5h1M224 247.5h1M225 246.5h1M226 245.5h1M227 244.5h1M228 243.5h1M229 242.5h1M230 241.5h1M231 240.5h1M232 239.5h1M233 238.5h1M234 237.5h1M235 236.5h1M236 235.5h1M237 234.5h1M238 233.5h1M239 232.5h1M240 231.5h1M241 230.5h1M242 229.5h1M243 228.5h1M244 227.5h1M245 226.5h1M246 225.5h1M247 224.5h1M248 223.5h1M249 222.5h1M250 221.5h1M251 220.5h1M252 219.5h1M253 218.5h1M254 217.5h1M255 216.5h1M256 215.5h1M257 214.5h1M258 213.5h1M259 212.5h1M260 211.5h1M261 210.5h1M262 209.5h1M187 273.5h1M188 274.5h1M189 275.5h1M190 276.5h1M191 277.5h1M192 278.5h1M193 279.5h1M194 280.5h1M195 281.5h1M196 282.5h1M197 283.5h1M198 284.5h1M199 285.5h1M200 286.5h1M201 287.5h1M202 288.5h1M203 289.5h1M204 290.5h1M205 291.5h1M206 292.5h1M207 293.5h1M208 294.5h1M209 295.5h1M210 296.5h1M211 297.5h1M212 298.5h1M213 299.5h1M214 300.5h1M215 301.5h1M216 302.5h1M217 303.5h1M218 304.5h1M219 305.5h1M220 306.5h1M221 307.5h1M222 308.5h1M223 309.5h1M224 310.5h1M225 311.5h1M226 312.5h1M227 313.5h1M228 314.5h1M229 315.5h1M230 316.5h1M231 317.5h1M232 318.5h1M233 319.5h1M234 320.5h1M235 321.5h1M236 322.5h1M237 323.5h1M238 324.5h1M239 325.5h1M240 326.5h1M241 327.5h1M242 328.5h1M243 329.5h1M244 330.5h1M245 331.5h1M246 332.5h1M247 333.5h1M248 334.5h1M249 335.5h1M250 336.5h1M251 337.5h1M252 338.5h1M253 339.5h1M254 340.5h1M255 341.5h1M256 342.5h1M257 343.5h1M258 344.5h1M259 345.5h1M260 346.5h1M261 347.5h1M262 348.5h1M187 300.5h1M188 299.5h1M189 298.5h1M190 297.5h1M191 296.5h1M192 295.5h1M193 294.5h1M194 293.5h1M195 292.5h1M196 291.5h1M197 290.5h1M198 289.5h1M199 288.5h1M200 287.5h1M201 286.5h1M202 285.5h1M203 284.5h1M204 283.5h1M205 282.5h1M206 281.5h1M207 280.5h1M208 279.5h1M209 278.5h1M210 277.5h1M211 276.5h1M212 275.5h1M213 274.5h1M214 273.5h1M215 272.5h1M216 271.5h1M217 270.5h1M218 269.5h1M219 268.5h1M220 267.5h1M221 266.5h1M222 265.5h1M223 264.5h1M224 263.5h1M225 262.5h1M226 261.5h1M227 260.5h1M228 259.5h1M229 258.5h1M230 257.5h1M231 256.5h1M232 255.5h1M233 254.5h1M234 253.5h1M235 252.5h1M236 251.5h1M237 250.5h1M238 249.5h1M239 248.5h1M240 247.5h1M241 246.5h1M242 245.5h1M243 244.5h1M244 243.5h1M245 242.5h1M246 241.5h1M247 240.5h1M248 239.5h1M249 238.5h1M250 237.5h1M251 236.5h1M252 235.5h1M253 234.5h1M254 233.5h1M255 232.5h1M256 231.5h1M257 230.5h1M258 229.5h1M259 228.5h1M260 227.5h1M261 226.5h1M262 225.5h1M187 289.5h1M188 290.5h1M189 291.5h1M190 292.5h1M191 293.5h1M192 294.5h1M193 295.5h1M194 296.5h1M195 297.5h1M196 298.5h1M197 299.5h1M198 300.5h1M199 301.5h1M200 302.5h1M201 303.5h1M202 304.5h1M203 305.5h1M204 306.5h1M205 307.5h1M206 308.5h1M207 309.5h1M208 310.5h1M209 311.5h1M210 312.5h1M211 313.5h1M212 314.5h1M213 315.5h1M214 316.5h1M215 317.5h1M216 318.5h1M217 319.5h1M218 320.5h1M219 321.5h1M220 322.5h1M221 323.5h1M222 324.5h1M223 325.5h1M224 326.5h1M225 327.5h1M226 328.5h1M227 329.5h1M228 330.5h1M229 331.5h1M230 332.5h1M231 333.5h1M232 334.5h1M233 335.5h1M234 336.5h1M235 337.5h1M236 338.5h1M237 339.5h1M238 340.5h1M239 341.5h1M240 342.5h1M241 343.5h1M242 344.5h1M243 345.5h1M244 346.5h1M245 347.5h1M246 348.5h1M247 349.5h1M248 350.5h1M249 351.5h1M250 352.5h1M251 353.5h1M252 354.5h1M253 355.5h1M254 356.5h1M255 357.5h1M256 358.5h1M257 359.5h1M258 360.5h1M259 361.5h1M260 362.5h1M261 363.5h1M262 364.5h1M187 316.5h1M188 315.5h1M189 314.5h1M190 313.5h1M191 312.5h1M192 311.5h1M193 310.5h1M194 309.5h1M195 308.5h1M196 307.5h1M197 306.5h1M198 305.5h1M199 304.5h1M200 303.5h1M201 302.5h1M202 301.5h1M203 300.5h1M204 299.5h1M205 298.5h1M206 297.5h1M207 296.5h1M208 295.5h1M209 294.5h1M210 293.5h1M211 292.5h1M212 291.5h1M213 290.5h1M214 289.5h1M215 288.5h1M216 287.5h1M217 286.5h1M218 285.5h1M219 284.5h1M220 283.5h1M221 282.5h1M222 281.5h1M223 280.5h1M224 279.5h1M225 278.5h1M226 277.5h1M227 276.5h1M228 275.5h1M229 274.5h1M230 273.5h1M231 272.5h1M232 271.5h1M233 270.5h1M234 269.5h1M235 268.5h1M236 267.5h1M237 266.5h1M238 265.5h1M239 264.5h1M240 263.5h1M241 262.5h1M242 261.5h1M243 260.5h1M244 259.5h1M245 258.5h1M246 257.5h1M247 256.5h1M248 255.5h1M249 254.5h1M250 253.5h1M251 252.5h1M252 251.5h1M253 250.5h1M254 249.5h1M255 248.5h1M256 247.5h1M257 246.5h1M258 245.5h1M259 244.5h1M260 243.5h1M261 242.5h1M262 241.5h1M187 305.5h1M188 306.5h1M189 307.5h1M190 308.5h1M191 309.5h1M192 310.5h1M193 311.5h1M194 312.5h1M195 313.5h1M196 314.5h1M197 315.5h1M198 316.5h1M199 317.5h1M200 318.5h1M201 319.5h1M202 320.5h1M203 321.5h1M204 322.5h1M205 323.5h1M206 324.5h1M207 325.5h1M208 326.5h1M209 327.5h1M210 328.5h1M211 329.5h1M212 330.5h1M213 331.5h1M214 332.5h1M215 333.5h1M216 334.5h1M217 335.5h1M218 336.5h1M219 337.5h1M220 338.5h1M221 339.5h1M222 340.5h1M223 341.5h1M224 342.5h1M225 343.5h1M226 344.5h1M227 345.5h1M228 346.5h1M229 347.5h1M230 348.5h1M231 349.5h1M232 350.5h1M233 351.5h1M234 352.5h1M235 353.5h1M236 354.5h1M237 355.5h1M238 356.5h1M239 357.5h1M240 358.5h1M241 359.5h1M242 360.5h1M243 361.5h1M244 362.5h1M245 363.5h1M246 364.5h1M247 365.5h1M248 366.5h1M249 367.5h1M250 368.5h1M251 369.5h1M252 370.5h1M253 371.5h1M254 372.5h1M255 373.5h1M256 374.5h1M257 375.5h1M258 376.5h1M259 377.5h1M260 378.5h1M261 379.5h1M262 380.5h1M187 332.5h1M188 331.5h1M189 330.5h1M190 329.5h1M191 328.5h1M192 327.5h1M193 326.5h1M194 325.5h1M195 324.5h1M196 323.5h1M197 322.5h1M198 321.5h1M199 320.5h1M200 319.5h1M201 318.5h1M202 317.5h1M203 316.5h1M204 315.5h1M205 314.5h1M206 313.5h1M207 312.5h1M208 311.5h1M209 310.5h1M210 309.5h1M211 308.5h1M212 307.5h1M213 306.5h1M214 305.5h1M215 304.5h1M216 303.5h1M217 302.5h1M218 301.5h1M219 300.5h1M220 299.5h1M221 298.5h1M222 297.5h1M223 296.5h1M224 295.5h1M225 294.5h1M226 293.5h1M227 292.5h1M228 291.5h1M229 290.5h1M230 289.5h1M231 288.5h1M232 287.5h1M233 286.5h1M234 285.5h1M235 284.5h1M236 283.5h1M237 282.5h1M238 281.5h1M239 280.5h1M240 279.5h1M241 278.5h1M242 277.5h1M243 276.5h1M244 275.5h1M245 274.5h1M246 273.5h1M247 272.5h1M248 271.5h1M249 270.5h1M250 269.5h1M251 268.5h1M252 267.5h1M253 266.5h1M254 265.5h1M255 264.5h1M256 263.5h1M257 262.5h1M258 261.5h1M259 260.5h1M260 259.5h1M261 258.5h1M262 257.5h1M187 321.5h1M188 322.5h1M189 323.5h1M190 324.5h1M191 325.5h1M192 326.5h1M193 327.5h1M194 328.5h1M195 329.5h1M196 330.5h1M197 331.5h1M198 332.5h1M199 333.5h1M200 334.5h1M201 335.5h1M202 336.5h1M203 337.5h1M204 338.5h1M205 339.5h1M206 340.5h1M207 341.5h1M208 342.5h1M209 343.5h1M210 344.5h1M211 345.5h1M212 346.5h1M213 347.5h1M214 348.5h1M215 349.5h1M216 350.5h1M217 351.5h1M218 352.5h1M219 353.5h1M220 354.5h1M221 355.5h1M222 356.5h1M223 357.5h1M224 358.5h1M225 359.5h1M226 360.5h1M227 361.5h1M228 362.5h1M229 363.5h1M230 364.5h1M231 365.5h1M232 366.5h1M233 367.5h1M234 368.5h1M235 369.5h1M236 370.5h1M237 371.5h1M238 372.5h1M239 373.5h1M240 374.5h1M241 375.5h1M242 376.5h1M243 377.5h1M244 378.5h1M245 379.5h1M246 380.5h1M247 381.5h1M248 382.5h1M249 383.5h1M250 384.5h1M251 385.5h1M252 386.5h1M253 387.5h1M254 388.5h1M255 389.5h1M256 390.5h1M257 391.5h1M258 392.5h1M259 393.5h1M260 394.5h1M261 395.5h1M262 396.5h1M187 348.5h1M188 347.5h1M189 346.5h1M190 345.5h1M191 344.5h1M192 343.5h1M193 342.5h1M194 341.5h1M195 340.5h1M196 339.5h1M197 338.5h1M198 337.5h1M199 336.5h1M200 335.5h1M201 334.5h1M202 333.5h1M203 332.5h1M204 331.5h1M205 330.5h1M206 329.5h1M207 328.5h1M208 327.5h1M209 326.5h1M210 325.5h1M211 324.5h1M212 323.5h1M213 322.5h1M214 321.5h1M215 320.5h1M216 319.5h1M217 318.5h1M218 317.5h1M219 316.5h1M220 315.5h1M221 314.5h1M222 313.5h1M223 312.5h1M224 311.5h1M225 310.5h1M226 309.5h1M227 308.5h1M228 307.5h1M229 306.5h1M230 305.5h1M231 304.5h1M232 303.5h1M233 302.5h1M234 301.5h1M235 300.5h1M236 299.5h1M237 298.5h1M238 297.5h1M239 296.5h1M240 295.5h1M241 294.5h1M242 293.5h1M243 292.5h1M244 291.5h1M245 290.5h1M246 289.5h1M247 288.5h1M248 287.5h1M249 286.5h1M250 285.5h1M251 284.5h1M252 283.5h1M253 282.5h1M254 281.5h1M255 280.5h1M256 279.5h1M257 278.5h1M258 277.5h1M259 276.5h1M260 275.5h1M261 274.5h1M262 273.5h1M187 337.5h1M188 338.5h1M189 339.5h1M190 340.5h1M191 341.5h1M192 342.5h1M193 343.5h1M194 344.5h1M195 345.5h1M196 346.5h1M197 347.5h1M198 348.5h1M199 349.5h1M200 350.5h1M201 351.5h1M202 352.5h1M203 353.5h1M204 354.5h1M205 355.5h1M206 356.5h1M207 357.5h1M208 358.5h1M209 359.5h1M210 360.5h1M211 361.5h1M212 362.5h1M213 363.5h1M214 364.5h1M215 365.5h1M216 366.5h1M217 367.5h1M218 368.5h1M219 369.5h1M220 370.5h1M221 371.5h1M222 372.5h1M223 373.5h1M224 374.5h1M225 375.5h1M226 376.5h1M227 377.5h1M228 378.5h1M229 379.5h1M230 380.5h1M231 381.5h1M232 382.5h1M233 383.5h1M234 384.5h1M235 385.5h1M236 386.5h1M237 387.5h1M238 388.5h1M239 389.5h1M240 390.5h1M241 391.5h1M242 392.5h1M243 393.5h1M244 394.5h1M245 395.5h1M246 396.5h1M247 397.5h1M248 398.5h1M249 399.5h1M250 400.5h1M251 401.5h1M252 402.5h1M253 403.5h1M254 404.5h1M255 405.5h1M256 406.5h1M257 407.5h1M258 408.5h1M259 409.5h1M260 410.5h1M261 411.5h1M262 412.5h1M187 364.5h1M188 363.5h1M189 362.5h1M190 361.5h1M191 360.5h1M192 359.5h1M193 358.5h1M194 357.5h1M195 356.5h1M196 355.5h1M197 354.5h1M198 353.5h1M199 352.5h1M200 351.5h1M201 350.5h1M202 349.5h1M203 348.5h1M204 347.5h1M205 346.5h1M206 345.5h1M207 344.5h1M208 343.5h1M209 342.5h1M210 341.5h1M211 340.5h1M212 339.5h1M213 338.5h1M214 337.5h1M215 336.5h1M216 335.5h1M217 334.5h1M218 333.5h1M219 332.5h1M220 331.5h1M221 330.5h1M222 329.5h1M223 328.5h1M224 327.5h1M225 326.5h1M226 325.5h1M227 324.5h1M228 323.5h1M229 322.5h1M230 321.5h1M231 320.5h1M232 319.5h1M233 318.5h1M234 317.5h1M235 316.5h1M236 315.5h1M237 314.5h1M238 313.5h1M239 312.5h1M240 311.5h1M241 310.5h1M242 309.5h1M243 308.5h1M244 307.5h1M245 306.5h1M246 305.5h1M247 304.5h1M248 303.5h1M249 302.5h1M250 301.5h1M251 300.5h1M252 299.5h1M253 298.5h1M254 297.5h1M255 296.5h1M256 295.5h1M257 294.5h1M258 293.5h1M259 292.5h1M260 291.5h1M261 290.5h1M262 289.5h1M187 353.5h1M188 354.5h1M189 355.5h1M190 356.5h1M191 357.5h1M192 358.5h1M193 359.5h1M194 360.5h1M195 361.5h1M196 362.5h1M197 363.5h1M198 364.5h1M199 365.5h1M200 366.5h1M201 367.5h1M202 368.5h1M203 369.5h1M204 370.5h1M205 371.5h1M206 372.5h1M207 373.5h1M208 374.5h1M209 375.5h1M210 376.5h1M211 377.5h1M212 378.5h1M213 379.5h1M214 380.5h1M215 381.5h1M216 382.5h1M217 383.5h1M218 384.5h1M219 385.5h1M220 386.5h1M221 387.5h1M222 388.5h1M223 389.5h1M224 390.5h1M225 391.5h1M226 392.5h1M227 393.5h1M228 394.5h1M229 395.5h1M230 396.5h1M231 397.5h1M232 398.5h1M233 399.5h1M234 400.5h1M235 401.5h1M236 402.5h1M237 403.5h1M238 404.5h1M239 405.5h1M240 406.5h1M241 407.5h1M242 408.5h1M243 409.5h1M244 410.5h1M245 411.5h1M246 412.5h1M247 413.5h1M248 414.5h1M249 415.5h1M250 416.5h1M251 417.5h1M252 418.5h1M253 419.5h1M254 420.5h1M255 421.5h1M256 422.5h1M257 423.5h1M258 424.5h1M259 425.5h1M260 426.5h1M261 427.5h1M262 428.5h1M187 380.5h1M188 379.5h1M189 378.5h1M190 377.5h1M191 376.5h1M192 375.5h1M193 374.5h1M194 373.5h1M195 372.5h1M196 371.5h1M197 370.5h1M198 369.5h1M199 368.5h1M200 367.5h1M201 366.5h1M202 365.5h1M203 364.5h1M204 363.5h1M205 362.5h1M206 361.5h1M207 360.5h1M208 359.5h1M209 358.5h1M210 357.5h1M211 356.5h1M212 355.5h1M213 354.5h1M214 353.5h1M215 352.5h1M216 351.5h1M217 350.5h1M218 349.5h1M219 348.5h1M220 347.5h1M221 346.5h1M222 345.5h1M223 344.5h1M224 343.5h1M225 342.5h1M226 341.5h1M227 340.5h1M228 339.5h1M229 338.5h1M230 337.5h1M231 336.5h1M232 335.5h1M233 334.5h1M234 333.5h1M235 332.5h1M236 331.5h1M237 330.5h1M238 329.5h1M239 328.5h1M240 327.5h1M241 326.5h1M242 325.5h1M243 324.5h1M244 323.5h1M245 322.5h1M246 321.5h1M247 320.5h1M248 319.5h1M249 318.5h1M250 317.5h1M251 316.5h1M252 315.5h1M253 314.5h1M254 313.5h1M255 312.5h1M256 311.5h1M257 310.5h1M258 309.5h1M259 308.5h1M260 307.5h1M261 306.5h1M262 305.5h1M187 369.5h1M188 370.5h1M189 371.5h1M190 372.5h1M191 373.5h1M192 374.5h1M193 375.5h1M194 376.5h1M195 377.5h1M196 378.5h1M197 379.5h1M198 380.5h1M199 381.5h1M200 382.5h1M201 383.5h1M202 384.5h1M203 385.5h1M204 386.5h1M205 387.5h1M206 388.5h1M207 389.5h1M208 390.5h1M209 391.5h1M210 392.5h1M211 393.5h1M212 394.5h1M213 395.5h1M214 396.5h1M215 397.5h1M216 398.5h1M217 399.5h1M218 400.5h1M219 401.5h1M220 402.5h1M221 403.5h1M222 404.5h1M223 405.5h1M224 406.5h1M225 407.5h1M226 408.5h1M227 409.5h1M228 410.5h1M229 411.5h1M230 412.5h1M231 413.5h1M232 414.5h1M233 415.5h1M234 416.5h1M235 417.5h1M236 418.5h1M237 419.5h1M238 420.5h1M239 421.5h1M240 422.5h1M241 423.5h1M242 424.5h1M243 425.5h1M244 426.5h1M245 427.5h1M246 428.5h1M247 429.5h1M248 430.5h1M249 431.5h1M250 432.5h1M251 433.5h1M252 434.5h1M253 435.5h1M254 436.5h1M255 437.5h1M256 438.5h1M257 439.5h1M258 440.5h1M259 441.5h1M260 442.5h1M261 443.5h1M262 444.5h1M187 396.5h1M188 395.5h1M189 394.5h1M190 393.5h1M191 392.5h1M192 391.5h1M193 390.5h1M194 389.5h1M195 388.5h1M196 387.5h1M197 386.5h1M198 385.5h1M199 384.5h1M200 383.5h1M201 382.5h1M202 381.5h1M203 380.5h1M204 379.5h1M205 378.5h1M206 377.5h1M207 376.5h1M208 375.5h1M209 374.5h1M210 373.5h1M211 372.5h1M212 371.5h1M213 370.5h1M214 369.5h1M215 368.5h1M216 367.5h1M217 366.5h1M218 365.5h1M219 364.5h1M220 363.5h1M221 362.5h1M222 361.5h1M223 360.5h1M224 359.5h1M225 358.5h1M226 357.5h1M227 356.5h1M228 355.5h1M229 354.5h1M230 353.5h1M231 352.5h1M232 351.5h1M233 350.5h1M234 349.5h1M235 348.5h1M236 347.5h1M237 346.5h1M238 345.5h1M239 344.5h1M240 343.5h1M241 342.5h1M242 341.5h1M243 340.5h1M244 339.5h1M245 338.5h1M246 337.5h1M247 336.5h1M248 335.5h1M249 334.5h1M250 333.5h1M251 332.5h1M252 331.5h1M253 330.5h1M254 329.5h1M255 328.5h1M256 327.5h1M257 326.5h1M258 325.5h1M259 324.5h1M260 323.5h1M261 322.5h1M262 321.5h1M187 385.5h1M188 386.5h1M189 387.5h1M190 388.5h1M191 389.5h1M192 390.5h1M193 391.5h1M194 392.5h1M195 393.5h1M196 394.5h1M197 395.5h1M198 396.5h1M199 397.5h1M200 398.5h1M201 399.5h1M202 400.5h1M203 401.5h1M204 402.5h1M205 403.5h1M206 404.5h1M207 405.5h1M208 406.5h1M209 407.5h1M210 408.5h1M211 409.5h1M212 410.5h1M213 411.5h1M214 412.5h1M215 413.5h1M216 414.5h1M217 415.5h1M218 416.5h1M219 417.5h1M220 418.5h1M221 419.5h1M222 420.5h1M223 421.5h1M224 422.5h1M225 423.5h1M226 424.5h1M227 425.5h1M228 426.5h1M229 427.5h1M230 428.5h1M231 429.5h1M232 430.5h1M233 431.5h1M234 432.5h1M235 433.5h1M236 434.5h1M237 435.5h1M238 436.5h1M239 437.5h1M240 438.5h1M241 439.5h1M242 440.5h1M243 441.5h1M244 442.5h1M245 443.5h1M246 444.5h1M247 445.5h1M248 446.5h1M249 447.5h1M250 448.5h1M251 449.5h1M252 450.5h1M253 451.5h1M254 452.5h1M255 453.5h1M256 454.5h1M257 455.5h1M258 456.5h1M259 457.5h1M260 458.5h1M261 459.5h1M262 460.5h1M187 412.5h1M188 411.5h1M189 410.5h1M190 409.5h1M191 408.5h1M192 407.5h1M193 406.5h1M194 405.5h1M195 404.5h1M196 403.5h1M197 402.5h1M198 401.5h1M199 400.5h1M200 399.5h1M201 398.5h1M202 397.5h1M203 396.5h1M204 395.5h1M205 394.5h1M206 393.5h1M207 392.5h1M208 391.5h1M209 390.5h1M210 389.5h1M211 388.5h1M212 387.5h1M213 386.5h1M214 385.5h1M215 384.5h1M216 383.5h1M217 382.5h1M218 381.5h1M219 380.5h1M220 379.5h1M221 378.5h1M222 377.5h1M223 376.5h1M224 375.5h1M225 374.5h1M226 373.5h1M227 372.5h1M228 371.5h1M229 370.5h1M230 369.5h1M231 368.5h1M232 367.5h1M233 366.5h1M234 365.5h1M235 364.5h1M236 363.5h1M237 362.5h1M238 361.5h1M239 360.5h1M240 359.5h1M241 358.5h1M242 357.5h1M243 356.5h1M244 355.5h1M245 354.5h1M246 353.5h1M247 352.5h1M248 351.5h1M249 350.5h1M250 349.5h1M251 348.5h1M252 347.5h1M253 346.5h1M254 345.5h1M255 344.5h1M256 343.5h1M257 342.5h1M258 341.5h1M259 340.5h1M260 339.5h1M261 338.5h1M262 337.5h1M187 401.5h1M188 402.5h1M189 403.5h1M190 404.5h1M191 405.5h1M192 406.5h1M193 407.5h1M194 408.5h1M195 409.5h1M196 410.5h1M197 411.5h1M198 412.5h1M199 413.5h1M200 414.5h1M201 415.5h1M202 416.5h1M203 417.5h1M204 418.5h1M205 419.5h1M206 420.5h1M207 421.5h1M208 422.5h1M209 423.5h1M210 424.5h1M211 425.5h1M212 426.5h1M213 427.5h1M214 428.5h1M215 429.5h1M216 430.5h1M217 431.5h1M218 432.5h1M219 433.5h1M220 434.5h1M221 435.5h1M222 436.5h1M223 437.5h1M224 438.5h1M225 439.5h1M226 440.5h1M227 441.5h1M228 442.5h1M229 443.5h1M230 444.5h1M231 445.5h1M232 446.5h1M233 447.5h1M234 448.5h1M235 449.5h1M236 450.5h1M237 451.5h1M238 452.5h1M239 453.5h1M240 454.5h1M241 455.5h1M242 456.5h1M243 457.5h1M244 458.5h1M245 459.5h1M246 460.5h1M247 461.5h1M248 462.5h1M249 463.5h1M250 464.5h1M251 465.5h1M252 466.5h1M253 467.5h1M254 468.5h1M255 469.5h1M256 470.5h1M257 471.5h1M258 472.5h1M259 473.5h1M260 474.5h1M261 475.5h1M262 476.5h1M187 427.5h1M188 426.5h1M189 425.5h1M190 424.5h1M191 423.5h1M192 422.5h1M193 421.5h1M194 420.5h1M195 419.5h1M196 418.5h1M197 417.5h1M198 416.5h1M199 415.5h1M200 414.5h1M201 413.5h1M202 412.5h1M203 411.5h1M204 410.5h1M205 409.5h1M206 408.5h1M207 407.5h1M208 406.5h1M209 405.5h1M210 404.5h1M211 403.5h1M212 402.5h1M213 401.5h1M214 400.5h1M215 399.5h1M216 398.5h1M217 397.5h1M218 396.5h1M219 395.5h1M220 394.5h1M221 393.5h1M222 392.5h1M223 391.5h1M224 390.5h1M225 389.5h1M226 388.5h1M227 387.5h1M228 386.5h1M229 385.5h1M230 384.5h1M231 383.5h1M232 382.5h1M233 381.5h1M234 380.5h1M235 379.5h1M236 378.5h1M237 377.5h1M238 376.5h1M239 375.5h1M240 374.5h1M241 373.5h1M242 372.5h1M243 371.5h1M244 370.5h1M245 369.5h1M246 368.5h1M247 367.5h1M248 366.5h1M249 365.5h1M250 364.5h1M251 363.5h1M252 362.5h1M253 361.5h1M254 360.5h1M255 359.5h1M256 358.5h1M257 357.5h1M258 356.5h1M259 355.5h1M260 354.5h1M261 353.5h1M262 352.5h1M187 416.5h1M188 417.5h1M189 418.5h1M190 419.5h1M191 420.5h1M192 421.5h1M193 422.5h1M194 423.5h1M195 424.5h1M196 425.5h1M197 426.5h1M198 427.5h1M199 428.5h1M200 429.5h1M201 430.5h1M202 431.5h1M203 432.5h1M204 433.5h1M205 434.5h1M206 435.5h1M207 436.5h1M208 437.5h1M209 438.5h1M210 439.5h1M211 440.5h1M212 441.5h1M213 442.5h1M214 443.5h1M215 444.5h1M216 445.5h1M217 446.5h1M218 447.5h1M219 448.5h1M220 449.5h1M221 450.5h1M222 451.5h1M223 452.5h1M224 453.5h1M225 454.5h1M226 455.5h1M227 456.5h1M228 457.5h1M229 458.5h1M230 459.5h1M231 460.5h1M232 461.5h1M233 462.5h1M234 463.5h1M235 464.5h1M236 465.5h1M237 466.5h1M238 467.5h1M239 468.5h1M240 469.5h1M241 470.5h1M242 471.5h1M243 472.5h1M244 473.5h1M245 474.5h1M246 475.5h1M247 476.5h1M248 477.5h1M249 478.5h1M250 479.5h1M251 480.5h1M252 481.5h1M253 482.5h1M254 483.5h1M255 484.5h1M256 485.5h1M257 486.5h1M258 487.5h1M259 488.5h1M260 489.5h1M261 490.5h1M262 491.5h1M187 443.5h1M188 442.5h1M189 441.5h1M190 440.5h1M191 439.5h1M192 438.5h1M193 437.5h1M194 436.5h1M195 435.5h1M196 434.5h1M197 433.5h1M198 432.5h1M199 431.5h1M200 430.5h1M201 429.5h1M202 428.5h1M203 427.5h1M204 426.5h1M205 425.5h1M206 424.5h1M207 423.5h1M208 422.5h1M209 421.5h1M210 420.5h1M211 419.5h1M212 418.5h1M213 417.5h1M214 416.5h1M215 415.5h1M216 414.5h1M217 413.5h1M218 412.5h1M219 411.5h1M220 410.5h1M221 409.5h1M222 408.5h1M223 407.5h1M224 406.5h1M225 405.5h1M226 404.5h1M227 403.5h1M228 402.5h1M229 401.5h1M230 400.5h1M231 399.5h1M232 398.5h1M233 397.5h1M234 396.5h1M235 395.5h1M236 394.5h1M237 393.5h1M238 392.5h1M239 391.5h1M240 390.5h1M241 389.5h1M242 388.5h1M243 387.5h1M244 386.5h1M245 385.5h1M246 384.5h1M247 383.5h1M248 382.5h1M249 381.5h1M250 380.5h1M251 379.5h1M252 378.5h1M253 377.5h1M254 376.5h1M255 375.5h1M256 374.5h1M257 373.5h1M258 372.5h1M259 371.5h1M260 370.5h1M261 369.5h1M262 368.5h1M187 432.5h1M188 433.5h1M189 434.5h1M190 435.5h1M191 436.5h1M192 437.5h1M193 438.5h1M194 439.5h1M195 440.5h1M196 441.5h1M197 442.5h1M198 443.5h1M199 444.5h1M200 445.5h1M201 446.5h1M202 447.5h1M203 448.5h1M204 449.5h1M205 450.5h1M206 451.5h1M207 452.5h1M208 453.5h1M209 454.5h1M210 455.5h1M211 456.5h1M212 457.5h1M213 458.5h1M214 459.5h1M215 460.5h1M216 461.5h1M217 462.5h1M218 463.5h1M219 464.5h1M220 465.5h1M221 466.5h1M222 467.5h1M223 468.5h1M224 469.5h1M225 470.5h1M226 471.5h1M227 472.5h1M228 473.5h1M229 474.5h1M230 475.5h1M231 476.5h1M232 477.5h1M233 478.5h1M234 479.5h1M235 480.5h1M236 481.5h1M237 482.5h1M238 483.5h1M239 484.5h1M240 485.5h1M241 486.5h1M242 487.5h1M243 488.5h1M244 489.5h1M245 490.5h1M246 491.5h1M247 492.5h1M248 493.5h1M249 494.5h1M250 495.5h1M251 496.5h1M252 497.5h1M253 498.5h1M254 499.5h1M255 500.5h1M256 501.5h1M257 502.5h1M258 503.5h1M259 504.5h1M260 505.5h1M261 506.5h1M262 507.5h1M187 459.5h1M188 458.5h1M189 457.5h1M190 456.5h1M191 455.5h1M192 454.5h1M193 453.5h1M194 452.5h1M195 451.5h1M196 450.5h1M197 449.5h1M198 448.5h1M199 447.5h1M200 446.5h1M201 445.5h1M202 444.5h1M203 443.5h1M204 442.5h1M205 441.5h1M206 440.5h1M207 439.5h1M208 438.5h1M209 437.5h1M210 436.5h1M211 435.5h1M212 434.5h1M213 433.5h1M214 432.5h1M215 431.5h1M216 430.5h1M217 429.5h1M218 428.5h1M219 427.5h1M220 426.5h1M221 425.5h1M222 424.5h1M223 423.5h1M224 422.5h1M225 421.5h1M226 420.5h1M227 419.5h1M228 418.5h1M229 417.5h1M230 416.5h1M231 415.5h1M232 414.5h1M233 413.5h1M234 412.5h1M235 411.5h1M236 410.5h1M237 409.5h1M238 408.5h1M239 407.5h1M240 406.5h1M241 405.5h1M242 404.5h1M243 403.5h1M244 402.5h1M245 401.5h1M246 400.5h1M247 399.5h1M248 398.5h1M249 397.5h1M250 396.5h1M251 395.5h1M252 394.5h1M253 393.5h1M254 392.5h1M255 391.5h1M256 390.5h1M257 389.5h1M258 388.5h1M259 387.5h1M260 386.5h1M261 385.5h1M262 384.5h1M187 448.5h1M188 449.5h1M189 450.5h1M190 451.5h1M191 452.5h1M192 453.5h1M193 454.5h1M194 455.5h1M195 456.5h1M196 457.5h1M197 458.5h1M198 459.5h1M199 460.5h1M200 461.5h1M201 462.5h1M202 463.5h1M203 464.5h1M204 465.5h1M205 466.5h1M206 467.5h1M207 468.5h1M208 469.5h1M209 470.5h1M210 471.5h1M211 472.5h1M212 473.5h1M213 474.5h1M214 475.5h1M215 476.5h1M216 477.5h1M217 478.5h1M218 479.5h1M219 480.5h1M220 481.5h1M221 482.5h1M222 483.5h1M223 484.5h1M224 485.5h1M225 486.5h1M226 487.5h1M227 488.5h1M228 489.5h1M229 490.5h1M230 491.5h1M231 492.5h1M232 493.5h1M233 494.5h1M234 495.5h1M235 496.5h1M236 497.5h1M237 498.5h1M238 499.5h1M239 500.5h1M240 501.5h1M241 502.5h1M242 503.5h1M243 504.5h1M244 505.5h1M245 506.5h1M246 507.5h1M187 475.5h1M188 474.5h1M189 473.5h1M190 472.5h1M191 471.5h1M192 470.5h1M193 469.5h1M194 468.5h1M195 467.5h1M196 466.5h1M197 465.5h1M198 464.5h1M199 463.5h1M200 462.5h1M201 461.5h1M202 460.5h1M203 459.5h1M204 458.5h1M205 457.5h1M206 456.5h1M207 455.5h1M208 454.5h1M209 453.5h1M210 452.5h1M211 451.5h1M212 450.5h1M213 449.5h1M214 448.5h1M215 447.5h1M216 446.5h1M217 445.5h1M218 444.5h1M219 443.5h1M220 442.5h1M221 441.5h1M222 440.5h1M223 439.5h1M224 438.5h1M225 437.5h1M226 436.5h1M227 435.5h1M228 434.5h1M229 433.5h1M230 432.5h1M231 431.5h1M232 430.5h1M233 429.5h1M234 428.5h1M235 427.5h1M236 426.5h1M237 425.5h1M238 424.5h1M239 423.5h1M240 422.5h1M241 421.5h1M242 420.5h1M243 419.5h1M244 418.5h1M245 417.5h1M246 416.5h1M247 415.5h1M248 414.5h1M249 413.5h1M250 412.5h1M251 411.5h1M252 410.5h1M253 409.5h1M254 408.5h1M255 407.5h1M256 406.5h1M257 405.5h1M258 404.5h1M259 403.5h1M260 402.5h1M261 401.5h1M262 400.5h1M187 464.5h1M188 465.5h1M189 466.5h1M190 467.5h1M191 468.5h1M192 469.5h1M193 470.5h1M194 471.5h1M195 472.5h1M196 473.5h1M197 474.5h1M198 475.5h1M199 476.5h1M200 477.5h1M201 478.5h1M202 479.5h1M203 480.5h1M204 481.5h1M205 482.5h1M206 483.5h1M207 484.5h1M208 485.5h1M209 486.5h1M210 487.5h1M211 488.5h1M212 489.5h1M213 490.5h1M214 491.5h1M215 492.5h1M216 493.5h1M217 494.5h1M218 495.5h1M219 496.5h1M220 497.5h1M221 498.5h1M222 499.5h1M223 500.5h1M224 501.5h1M225 502.5h1M226 503.5h1M227 504.5h1M228 505.5h1M229 506.5h1M230 507.5h1M187 491.5h1M188 490.5h1M189 489.5h1M190 488.5h1M191 487.5h1M192 486.5h1M193 485.5h1M194 484.5h1M195 483.5h1M196 482.5h1M197 481.5h1M198 480.5h1M199 479.5h1M200 478.5h1M201 477.5h1M202 476.5h1M203 475.5h1M204 474.5h1M205 473.5h1M206 472.5h1M207 471.5h1M208 470.5h1M209 469.5h1M210 468.5h1M211 467.5h1M212 466.5h1M213 465.5h1M214 464.5h1M215 463.5h1M216 462.5h1M217 461.5h1M218 460.5h1M219 459.5h1M220 458.5h1M221 457.5h1M222 456.5h1M223 455.5h1M224 454.5h1M225 453.5h1M226 452.5h1M227 451.5h1M228 450.5h1M229 449.5h1M230 448.5h1M231 447.5h1M232 446.5h1M233 445.5h1M234 444.5h1M235 443.5h1M236 442.5h1M237 441.5h1M238 440.5h1M239 439.5h1M240 438.5h1M241 437.5h1M242 436.5h1M243 435.5h1M244 434.5h1M245 433.5h1M246 432.5h1M247 431.5h1M248 430.5h1M249 429.5h1M250 428.5h1M251 427.5h1M252 426.5h1M253 425.5h1M254 424.5h1M255 423.5h1M256 422.5h1M257 421.5h1M258 420.5h1M259 419.5h1M260 418.5h1M261 417.5h1M262 416.5h1M187 480.5h1M188 481.5h1M189 482.5h1M190 483.5h1M191 484.5h1M192 485.5h1M193 486.5h1M194 487.5h1M195 488.5h1M196 489.5h1M197 490.5h1M198 491.5h1M199 492.5h1M200 493.5h1M201 494.5h1M202 495.5h1M203 496.5h1M204 497.5h1M205 498.5h1M206 499.5h1M207 500.5h1M208 501.5h1M209 502.5h1M210 503.5h1M211 504.5h1M212 505.5h1M213 506.5h1M214 507.5h1M187 507.5h1M188 506.5h1M189 505.5h1M190 504.5h1M191 503.5h1M192 502.5h1M193 501.5h1M194 500.5h1M195 499.5h1M196 498.5h1M197 497.5h1M198 496.5h1M199 495.5h1M200 494.5h1M201 493.5h1M202 492.5h1M203 491.5h1M204 490.5h1M205 489.5h1M206 488.5h1M207 487.5h1M208 486.5h1M209 485.5h1M210 484.5h1M211 483.5h1M212 482.5h1M213 481.5h1M214 480.5h1M215 479.5h1M216 478.5h1M217 477.5h1M218 476.5h1M219 475.5h1M220 474.5h1M221 473.5h1M222 472.5h1M223 471.5h1M224 470.5h1M225 469.5h1M226 468.5h1M227 467.5h1M228 466.5h1M229 465.5h1M230 464.5h1M231 463.5h1M232 462.5h1M233 461.5h1M234 460.5h1M235 459.5h1M236 458.5h1M237 457.5h1M238 456.5h1M239 455.5h1M240 454.5h1M241 453.5h1M242 452.5h1M243 451.5h1M244 450.5h1M245 449.5h1M246 448.5h1M247 447.5h1M248 446.5h1M249 445.5h1M250 444.5h1M251 443.5h1M252 442.5h1M253 441.5h1M254 440.5h1M255 439.5h1M256 438.5h1M257 437.5h1M258 436.5h1M259 435.5h1M260 434.5h1M261 433.5h1M262 432.5h1M187 496.5h1M188 497.5h1M189 498.5h1M190 499.5h1M191 500.5h1M192 501.5h1M193 502.5h1M194 503.5h1M195 504.5h1M196 505.5h1M197 506.5h1M198 507.5h1M203 507.5h1M204 506.5h1M205 505.5h1M206 504.5h1M207 503.5h1M208 502.5h1M209 501.5h1M210 500.5h1M211 499.5h1M212 498.5h1M213 497.5h1M214 496.5h1M215 495.5h1M216 494.5h1M217 493.5h1M218 492.5h1M219 491.5h1M220 490.5h1M221 489.5h1M222 488.5h1M223 487.5h1M224 486.5h1M225 485.5h1M226 484.5h1M227 483.5h1M228 482.5h1M229 481.5h1M230 480.5h1M231 479.5h1M232 478.5h1M233 477.5h1M234 476.5h1M235 475.5h1M236 474.5h1M237 473.5h1M238 472.5h1M239 471.5h1M240 470.5h1M241 469.5h1M242 468.5h1M243 467.5h1M244 466.5h1M245 465.5h1M246 464.5h1M247 463.5h1M248 462.5h1M249 461.5h1M250 460.5h1M251 459.5h1M252 458.5h1M253 457.5h1M254 456.5h1M255 455.5h1M256 454.5h1M257 453.5h1M258 452.5h1M259 451.5h1M260 450.5h1M261 449.5h1M262 448.5h1M219 507.5h1M220 506.5h1M221 505.5h1M222 504.5h1M223 503.5h1M224 502.5h1M225 501.5h1M226 500.5h1M227 499.5h1M228 498.5h1M229 497.5h1M230 496.5h1M231 495.5h1M232 494.5h1M233 493.5h1M234 492.5h1M235 491.5h1M236 490.5h1M237 489.5h1M238 488.5h1M239 487.5h1M240 486.5h1M241 485.5h1M242 484.5h1M243 483.5h1M244 482.5h1M245 481.5h1M246 480.5h1M247 479.5h1M248 478.5h1M249 477.5h1M250 476.5h1M251 475.5h1M252 474.5h1M253 473.5h1M254 472.5h1M255 471.5h1M256 470.5h1M257 469.5h1M258 468.5h1M259 467.5h1M260 466.5h1M261 465.5h1M262 464.5h1M234 507.5h1M235 506.5h1M236 505.5h1M237 504.5h1M238 503.5h1M239 502.5h1M240 501.5h1M241 500.5h1M242 499.5h1M243 498.5h1M244 497.5h1M245 496.5h1M246 495.5h1M247 494.5h1M248 493.5h1M249 492.5h1M250 491.5h1M251 490.5h1M252 489.5h1M253 488.5h1M254 487.5h1M255 486.5h1M256 485.5h1M257 484.5h1M258 483.5h1M259 482.5h1M260 481.5h1M261 480.5h1M262 479.5h1M250 507.5h1M251 506.5h1M252 505.5h1M253 504.5h1M254 503.5h1M255 502.5h1M256 501.5h1M257 500.5h1M258 499.5h1M259 498.5h1M260 497.5h1M261 496.5h1M262 495.5h1" stroke="#f0f" stroke-width="1" fill="none"/>
<rect x="187" y="58" width="1" height="450" fill="#f0f"/>
<rect x="262" y="58" width="1" height="450" fill="#f0f"/>
<rect x="187" y="507" width="76" height="1" fill="#f0f"/>
<clipPath id="fc"><rect x="137" y="57" width="608" height="452"/></clipPath>
<polyline clip-path="url(#fc)" fill="none" stroke="#000" stroke-width="3.4" stroke-linejoin="round" points="138.5,105.6 165.5,82.6 283.8,224.5 304.8,285.4 590.5,343 743.5,496.6"/>
<rect x="164" y="494" width="3" height="15" fill="#0f0"/>
<rect x="164" y="469" width="3" height="15" fill="#0f0"/>
<rect x="164" y="444" width="3" height="15" fill="#0f0"/>
<rect x="164" y="419" width="3" height="15" fill="#0f0"/>
<rect x="164" y="394" width="3" height="15" fill="#0f0"/>
<rect x="164" y="368" width="3" height="15" fill="#0f0"/>
<rect x="164" y="343" width="3" height="15" fill="#0f0"/>
<rect x="164" y="318" width="3" height="15" fill="#0f0"/>
<rect x="164" y="293" width="3" height="15" fill="#0f0"/>
<rect x="164" y="268" width="3" height="15" fill="#0f0"/>
<rect x="164" y="243" width="3" height="15" fill="#0f0"/>
<rect x="164" y="218" width="3" height="15" fill="#0f0"/>
<rect x="164" y="193" width="3" height="15" fill="#0f0"/>
<rect x="164" y="168" width="3" height="15" fill="#0f0"/>
<rect x="164" y="143" width="3" height="15" fill="#0f0"/>
<rect x="164" y="117" width="3" height="15" fill="#0f0"/>
<rect x="164" y="92" width="3" height="15" fill="#0f0"/>
<rect x="282" y="492" width="3" height="15" fill="#0f0"/>
<rect x="282" y="467" width="3" height="15" fill="#0f0"/>
<rect x="282" y="442" width="3" height="15" fill="#0f0"/>
<rect x="282" y="417" width="3" height="15" fill="#0f0"/>
<rect x="282" y="392" width="3" height="15" fill="#0f0"/>
<rect x="282" y="367" width="3" height="15" fill="#0f0"/>
<rect x="282" y="342" width="3" height="15" fill="#0f0"/>
<rect x="282" y="316" width="3" height="16" fill="#0f0"/>
<rect x="282" y="291" width="3" height="15" fill="#0f0"/>
<rect x="282" y="266" width="3" height="15" fill="#0f0"/>
<rect x="282" y="241" width="3" height="15" fill="#0f0"/>
<rect x="282" y="224" width="3" height="7" fill="#0f0"/>
<rect x="303" y="498" width="3" height="11" fill="#0f0"/>
<rect x="303" y="473" width="3" height="15" fill="#0f0"/>
<rect x="303" y="448" width="3" height="15" fill="#0f0"/>
<rect x="303" y="423" width="3" height="15" fill="#0f0"/>
<rect x="303" y="398" width="3" height="14" fill="#0f0"/>
<rect x="303" y="372" width="3" height="15" fill="#0f0"/>
<rect x="303" y="347" width="3" height="15" fill="#0f0"/>
<rect x="303" y="322" width="3" height="15" fill="#0f0"/>
<rect x="303" y="297" width="3" height="15" fill="#0f0"/>
<rect x="303" y="287" width="3" height="0" fill="#0f0"/>
<rect x="589" y="494" width="3" height="15" fill="#0f0"/>
<rect x="589" y="469" width="3" height="15" fill="#0f0"/>
<rect x="589" y="444" width="3" height="14" fill="#0f0"/>
<rect x="589" y="418" width="3" height="15" fill="#0f0"/>
<rect x="589" y="393" width="3" height="15" fill="#0f0"/>
<rect x="589" y="368" width="3" height="15" fill="#0f0"/>
<rect x="589" y="343" width="3" height="15" fill="#0f0"/>
</g>
<g>
<text x="288" y="26" font-size="20" word-spacing="1.27">Swift/XRT data of GRB 190719C</text>
<text x="138.5" y="49.3" font-size="20" word-spacing="0.87">cyan: WT settling – blue: WT – red: PC</text>
<text x="324.5" y="552" font-size="20" word-spacing="1.38">Time since BAT trigger (s)</text>
<text x="196.5" y="528.6" font-size="20" text-anchor="middle">100</text>
<text x="332.6" y="528.6" font-size="20" text-anchor="middle">1000</text>
<text x="469.8" y="528.6" font-size="20" text-anchor="middle">10<tspan font-size="11.5" dy="-5.8" dx="-0.4">4</tspan></text>
<text x="606.3" y="528.6" font-size="20" text-anchor="middle">10<tspan font-size="11.5" dy="-5.8" dx="-0.4">5</tspan></text>
<text x="744.3" y="528.6" font-size="20" text-anchor="middle">10<tspan font-size="11.5" dy="-5.8" dx="-0.4">6</tspan></text>
<text x="126" y="125.7" font-size="20" text-anchor="end">100</text>
<text x="126" y="205.2" font-size="20" text-anchor="end">10</text>
<text x="126" y="284.7" font-size="20" text-anchor="end">1</text>
<text x="126" y="364.2" font-size="20" text-anchor="end">0.1</text>
<text x="126" y="443.7" font-size="20" text-anchor="end">0.01</text>
<text transform="translate(53.2,282.5) rotate(-90)" font-size="20" text-anchor="middle" word-spacing="0.78">Count Rate (0.3–10 keV) (s<tspan font-size="14" dy="-4.7">–</tspan><tspan font-size="11.5" dy="-1">1</tspan><tspan dy="5.7">)</tspan></text>
</g>
</svg>
</body></html>
